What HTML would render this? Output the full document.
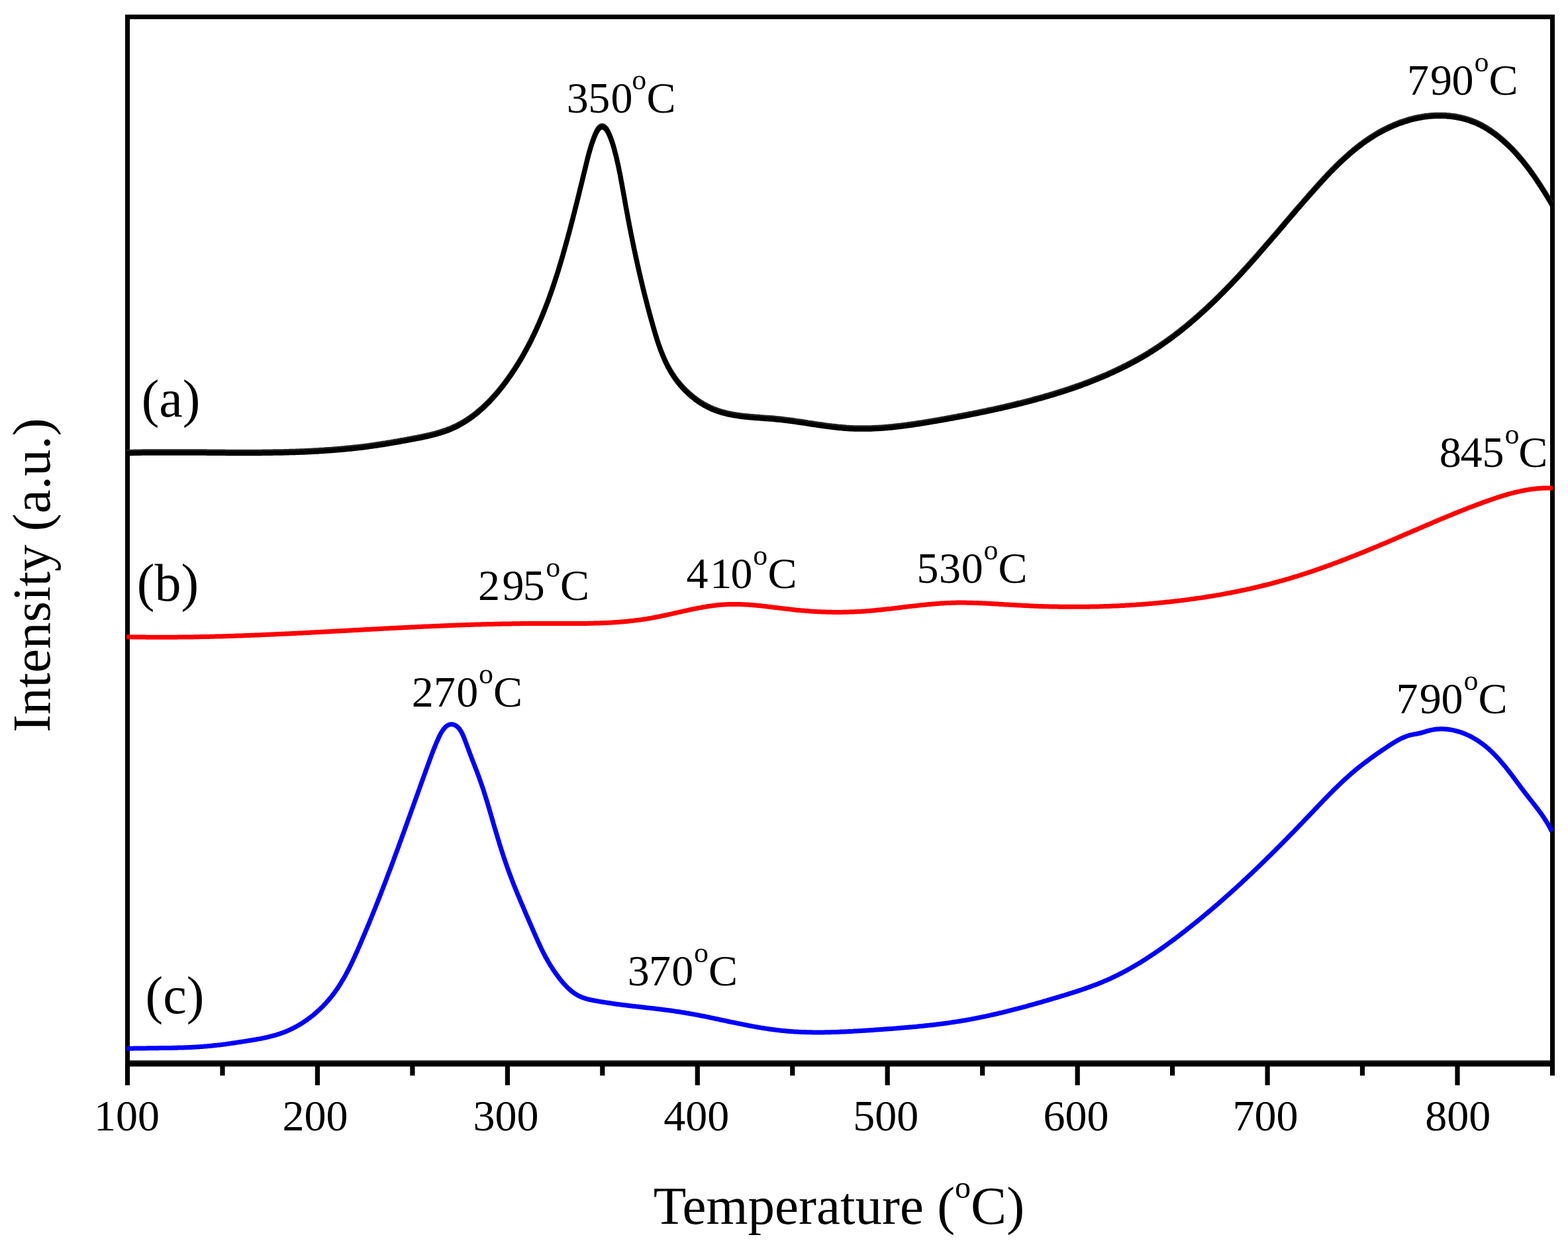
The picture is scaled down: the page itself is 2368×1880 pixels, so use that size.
<!DOCTYPE html>
<html><head><meta charset="utf-8"><style>
html,body{margin:0;padding:0;background:#fff;}
body{width:2368px;height:1880px;overflow:hidden;}
svg{display:block;}
</style></head><body>
<svg width="2368" height="1880" viewBox="0 0 2368 1880" font-family="'Liberation Serif','Times New Roman',serif" fill="#000"><rect width="2368" height="1880" fill="#fff"/><path d="M192.5 1606V25.5H2344.5V1606" fill="none" stroke="#000" stroke-width="7" stroke-linejoin="miter"/><rect x="189" y="1601.5" width="2159" height="9" fill="#000"/><rect x="196" y="1601.5" width="2145" height="2.3" fill="#1c1c1c"/><rect x="188.9" y="1606" width="7.2" height="32.7" fill="#000"/><rect x="332.4" y="1606" width="7.2" height="18.2" fill="#000"/><rect x="475.8" y="1606" width="7.2" height="32.7" fill="#000"/><rect x="619.3" y="1606" width="7.2" height="18.2" fill="#000"/><rect x="762.8" y="1606" width="7.2" height="32.7" fill="#000"/><rect x="906.2" y="1606" width="7.2" height="18.2" fill="#000"/><rect x="1049.7" y="1606" width="7.2" height="32.7" fill="#000"/><rect x="1193.2" y="1606" width="7.2" height="18.2" fill="#000"/><rect x="1336.6" y="1606" width="7.2" height="32.7" fill="#000"/><rect x="1480.1" y="1606" width="7.2" height="18.2" fill="#000"/><rect x="1623.6" y="1606" width="7.2" height="32.7" fill="#000"/><rect x="1767.0" y="1606" width="7.2" height="18.2" fill="#000"/><rect x="1910.5" y="1606" width="7.2" height="32.7" fill="#000"/><rect x="2053.9" y="1606" width="7.2" height="18.2" fill="#000"/><rect x="2197.4" y="1606" width="7.2" height="32.7" fill="#000"/><rect x="2340.9" y="1606" width="7.2" height="18.2" fill="#000"/><path d="M191.0 683.6L193.0 683.6L195.0 683.5L197.0 683.5L199.0 683.4L200.9 683.4L202.9 683.3L204.9 683.3L206.9 683.3L208.9 683.2L210.9 683.2L212.9 683.2L214.9 683.1L216.9 683.1L218.9 683.1L220.9 683.0L222.9 683.0L224.8 683.0L226.8 683.0L228.8 683.0L230.8 682.9L232.8 682.9L234.8 682.9L236.8 682.9L238.8 682.9L240.8 682.9L242.8 682.9L244.8 682.9L246.8 682.9L248.8 682.9L250.8 682.9L252.8 682.9L254.8 682.9L256.8 682.9L258.8 682.9L260.8 682.9L262.8 682.9L264.8 682.9L266.8 682.9L268.8 682.9L270.8 682.9L272.8 682.9L274.8 682.9L276.8 682.9L278.9 682.9L280.9 682.9L282.9 682.9L284.9 683.0L286.9 683.0L288.9 683.0L290.9 683.0L292.9 683.0L294.9 683.0L296.9 683.0L298.9 683.0L300.9 683.1L302.9 683.1L304.9 683.1L306.9 683.1L308.9 683.1L311.0 683.1L313.0 683.2L315.0 683.2L317.0 683.2L319.0 683.2L321.0 683.2L323.0 683.2L325.0 683.2L327.0 683.3L329.0 683.3L331.0 683.3L333.0 683.3L335.1 683.3L337.1 683.3L339.1 683.3L341.1 683.4L343.1 683.4L345.1 683.4L347.1 683.4L349.1 683.4L351.1 683.4L353.1 683.4L355.1 683.4L357.2 683.4L359.2 683.4L361.2 683.4L363.2 683.4L365.2 683.4L367.2 683.5L369.2 683.5L371.2 683.5L373.2 683.5L375.2 683.4L377.2 683.4L379.3 683.4L381.3 683.4L383.3 683.4L385.3 683.4L387.3 683.4L389.3 683.4L391.3 683.4L393.3 683.4L395.3 683.4L397.3 683.3L399.3 683.3L401.3 683.3L403.4 683.3L405.4 683.3L407.4 683.2L409.4 683.2L411.4 683.2L413.4 683.1L415.4 683.1L417.4 683.1L419.4 683.0L421.4 683.0L423.4 683.0L425.4 682.9L427.4 682.9L429.4 682.8L431.4 682.8L433.4 682.7L435.4 682.7L437.4 682.6L439.4 682.6L441.4 682.5L443.4 682.4L445.4 682.4L447.4 682.3L449.4 682.2L451.4 682.2L453.4 682.1L455.4 682.0L457.4 681.9L459.4 681.9L461.4 681.8L463.4 681.7L465.4 681.6L467.4 681.5L469.4 681.4L471.4 681.3L473.4 681.2L475.4 681.1L477.4 681.0L479.4 680.9L481.4 680.7L483.4 680.6L485.4 680.5L487.4 680.4L489.4 680.3L491.4 680.1L493.3 680.0L495.3 679.8L497.3 679.7L499.3 679.6L501.3 679.4L503.3 679.3L505.3 679.1L507.3 678.9L509.2 678.8L511.2 678.6L513.2 678.4L515.2 678.3L517.2 678.1L519.2 677.9L521.2 677.7L523.1 677.5L525.1 677.3L527.1 677.1L529.1 676.9L531.1 676.7L533.0 676.5L535.0 676.3L537.0 676.1L539.0 675.9L540.9 675.6L542.9 675.4L544.9 675.2L546.9 674.9L548.8 674.7L550.8 674.4L552.8 674.2L554.8 673.9L556.7 673.7L558.7 673.4L560.7 673.1L562.6 672.9L564.6 672.6L566.6 672.3L568.5 672.0L570.5 671.7L572.5 671.4L574.4 671.1L576.4 670.8L578.4 670.5L580.3 670.2L582.3 669.9L584.3 669.5L586.2 669.2L588.2 668.9L590.2 668.6L592.1 668.2L594.1 667.9L596.1 667.5L598.1 667.2L600.0 666.9L602.0 666.5L604.0 666.2L606.0 665.8L607.9 665.4L609.9 665.1L611.9 664.7L613.9 664.4L615.9 664.0L617.9 663.6L619.9 663.3L621.9 662.9L623.9 662.5L625.9 662.1L627.9 661.7L629.9 661.4L631.9 661.0L633.9 660.6L635.9 660.2L637.9 659.8L639.9 659.3L641.9 658.9L643.9 658.5L645.9 658.0L647.9 657.6L649.9 657.1L651.8 656.6L653.8 656.1L655.8 655.6L657.7 655.1L659.7 654.5L661.6 654.0L663.6 653.4L665.5 652.8L667.4 652.2L669.3 651.6L671.2 650.9L673.1 650.3L675.0 649.6L676.9 648.9L678.7 648.2L680.6 647.4L682.4 646.6L684.2 645.8L686.0 645.0L687.8 644.2L689.6 643.3L691.3 642.4L693.1 641.5L694.8 640.5L696.5 639.6L698.3 638.6L700.0 637.6L701.6 636.6L703.3 635.5L705.0 634.5L706.6 633.4L708.3 632.3L709.9 631.1L711.5 630.0L713.1 628.8L714.7 627.7L716.2 626.5L717.8 625.2L719.4 624.0L720.9 622.8L722.4 621.5L723.9 620.2L725.4 618.9L726.9 617.6L728.4 616.3L729.9 614.9L731.3 613.6L732.8 612.2L734.2 610.8L735.6 609.4L737.0 608.0L738.5 606.6L739.8 605.1L741.2 603.7L742.6 602.2L743.9 600.7L745.3 599.3L746.6 597.8L748.0 596.2L749.3 594.7L750.6 593.2L751.9 591.7L753.2 590.1L754.4 588.6L755.7 587.0L757.0 585.4L758.2 583.9L759.4 582.3L760.7 580.7L761.9 579.1L763.1 577.5L764.3 575.9L765.5 574.2L766.7 572.6L767.8 571.0L769.0 569.3L770.1 567.7L771.3 566.1L772.4 564.4L773.5 562.7L774.7 561.1L775.8 559.4L776.9 557.7L778.0 556.1L779.0 554.4L780.1 552.7L781.2 551.0L782.2 549.3L783.3 547.6L784.3 545.9L785.4 544.2L786.4 542.5L787.4 540.7L788.4 539.0L789.4 537.3L790.4 535.5L791.4 533.8L792.3 532.1L793.3 530.3L794.3 528.6L795.2 526.8L796.2 525.0L797.1 523.3L798.0 521.5L799.0 519.7L799.9 518.0L800.8 516.2L801.7 514.4L802.6 512.6L803.5 510.8L804.3 509.0L805.2 507.2L806.1 505.4L806.9 503.6L807.8 501.8L808.6 500.0L809.5 498.2L810.3 496.3L811.1 494.5L811.9 492.7L812.8 490.9L813.6 489.0L814.4 487.2L815.2 485.3L815.9 483.5L816.7 481.7L817.5 479.8L818.3 478.0L819.0 476.1L819.8 474.2L820.6 472.4L821.3 470.5L822.0 468.7L822.8 466.8L823.5 464.9L824.2 463.1L824.9 461.2L825.7 459.3L826.4 457.4L827.1 455.6L827.8 453.7L828.5 451.8L829.2 449.9L829.8 448.0L830.5 446.1L831.2 444.2L831.9 442.3L832.5 440.5L833.2 438.6L833.8 436.7L834.5 434.8L835.1 432.9L835.8 431.0L836.4 429.1L837.0 427.1L837.7 425.2L838.3 423.3L838.9 421.4L839.5 419.5L840.1 417.6L840.8 415.7L841.4 413.8L842.0 411.9L842.6 410.0L843.2 408.0L843.7 406.1L844.3 404.2L844.9 402.3L845.5 400.4L846.1 398.5L846.6 396.5L847.2 394.6L847.8 392.7L848.3 390.8L848.9 388.9L849.5 386.9L850.0 385.0L850.6 383.1L851.1 381.2L851.7 379.3L852.2 377.3L852.7 375.4L853.3 373.5L853.8 371.6L854.3 369.7L854.9 367.8L855.4 365.8L855.9 363.9L856.5 362.0L857.0 360.1L857.5 358.2L858.0 356.2L858.5 354.3L859.1 352.4L859.6 350.5L860.1 348.6L860.6 346.7L861.1 344.7L861.6 342.8L862.1 340.9L862.6 339.0L863.1 337.0L863.6 335.1L864.1 333.2L864.6 331.3L865.1 329.3L865.6 327.4L866.1 325.5L866.6 323.5L867.1 321.6L867.6 319.7L868.1 317.7L868.5 315.8L869.0 313.9L869.5 311.9L870.0 310.0L870.5 308.0L871.0 306.1L871.5 304.1L872.0 302.2L872.4 300.2L872.9 298.3L873.4 296.3L873.9 294.3L874.4 292.4L874.9 290.4L875.4 288.4L875.8 286.4L876.3 284.5L876.8 282.5L877.3 280.5L877.8 278.5L878.3 276.5L878.8 274.5L879.2 272.6L879.7 270.6L880.2 268.6L880.7 266.7L881.2 264.7L881.6 262.7L882.1 260.8L882.6 258.9L883.0 256.9L883.5 255.0L884.0 253.1L884.4 251.2L884.9 249.3L885.3 247.5L885.8 245.6L886.2 243.8L886.7 242.0L887.1 240.1L887.6 238.3L888.1 236.5L888.5 234.7L889.0 232.8L889.5 231.0L890.1 229.1L890.6 227.2L891.2 225.2L891.8 223.3L892.4 221.3L893.0 219.2L893.7 217.1L894.4 215.0L895.2 212.8L896.0 210.6L896.8 208.3L897.7 206.0L898.6 203.8L899.6 201.6L900.6 199.5L901.6 197.6L902.7 195.8L903.8 194.3L905.0 193.0L906.2 192.0L907.4 191.3L908.7 190.9L910.0 190.9L911.3 191.3L912.7 192.1L914.0 193.2L915.3 194.6L916.5 196.2L917.6 198.0L918.7 200.1L919.7 202.2L920.7 204.4L921.6 206.6L922.4 208.8L923.2 210.9L923.9 212.9L924.6 215.0L925.3 216.9L925.9 218.9L926.4 220.8L927.0 222.7L927.5 224.6L928.0 226.5L928.5 228.4L929.0 230.3L929.5 232.3L930.0 234.2L930.5 236.1L930.9 238.0L931.4 240.0L931.8 241.9L932.3 243.8L932.7 245.8L933.2 247.7L933.6 249.6L934.0 251.6L934.4 253.5L934.8 255.5L935.2 257.4L935.6 259.4L936.0 261.4L936.4 263.3L936.8 265.3L937.1 267.2L937.5 269.2L937.9 271.2L938.2 273.1L938.6 275.1L939.0 277.1L939.3 279.0L939.7 281.0L940.0 283.0L940.4 285.0L940.7 286.9L941.1 288.9L941.5 290.9L941.8 292.9L942.2 294.8L942.5 296.8L942.9 298.8L943.2 300.8L943.6 302.7L943.9 304.7L944.3 306.7L944.6 308.7L945.0 310.6L945.3 312.6L945.7 314.6L946.1 316.5L946.4 318.5L946.8 320.5L947.2 322.4L947.5 324.4L947.9 326.4L948.3 328.3L948.6 330.3L949.0 332.3L949.4 334.2L949.8 336.2L950.1 338.2L950.5 340.1L950.9 342.1L951.3 344.1L951.7 346.0L952.1 348.0L952.4 350.0L952.8 351.9L953.2 353.9L953.6 355.8L954.0 357.8L954.4 359.8L954.8 361.7L955.2 363.7L955.6 365.6L956.0 367.6L956.4 369.6L956.8 371.5L957.2 373.5L957.6 375.4L958.0 377.4L958.4 379.3L958.9 381.3L959.3 383.2L959.7 385.2L960.1 387.2L960.5 389.1L961.0 391.1L961.4 393.0L961.8 395.0L962.3 396.9L962.7 398.9L963.1 400.8L963.6 402.8L964.0 404.7L964.4 406.7L964.9 408.6L965.3 410.6L965.8 412.5L966.2 414.5L966.7 416.4L967.1 418.4L967.6 420.3L968.0 422.3L968.5 424.2L969.0 426.1L969.4 428.1L969.9 430.0L970.4 432.0L970.8 433.9L971.3 435.9L971.8 437.8L972.3 439.8L972.7 441.7L973.2 443.6L973.7 445.6L974.2 447.5L974.7 449.5L975.2 451.4L975.7 453.3L976.2 455.3L976.7 457.2L977.2 459.2L977.7 461.1L978.2 463.0L978.7 465.0L979.2 466.9L979.7 468.9L980.3 470.8L980.8 472.7L981.3 474.7L981.8 476.6L982.4 478.5L982.9 480.5L983.4 482.4L984.0 484.3L984.5 486.3L985.1 488.2L985.6 490.2L986.2 492.1L986.7 494.0L987.3 496.0L987.8 497.9L988.4 499.8L989.0 501.7L989.5 503.7L990.1 505.6L990.7 507.5L991.3 509.4L991.9 511.4L992.5 513.3L993.1 515.2L993.8 517.1L994.4 519.0L995.0 520.9L995.7 522.8L996.4 524.6L997.0 526.5L997.7 528.4L998.5 530.3L999.2 532.1L999.9 534.0L1000.7 535.8L1001.4 537.7L1002.2 539.5L1003.0 541.3L1003.8 543.1L1004.6 545.0L1005.5 546.8L1006.3 548.5L1007.2 550.3L1008.1 552.1L1009.0 553.9L1010.0 555.6L1010.9 557.3L1011.9 559.1L1012.9 560.8L1014.0 562.5L1015.0 564.2L1016.1 565.9L1017.2 567.5L1018.3 569.2L1019.4 570.8L1020.6 572.4L1021.8 574.1L1023.0 575.7L1024.3 577.2L1025.5 578.8L1026.8 580.4L1028.1 581.9L1029.5 583.4L1030.8 584.9L1032.2 586.4L1033.6 587.9L1035.1 589.3L1036.5 590.7L1038.0 592.1L1039.5 593.5L1041.0 594.9L1042.5 596.2L1044.0 597.5L1045.6 598.8L1047.2 600.1L1048.8 601.4L1050.4 602.6L1052.0 603.8L1053.6 604.9L1055.3 606.1L1057.0 607.2L1058.7 608.3L1060.4 609.3L1062.1 610.4L1063.8 611.4L1065.6 612.3L1067.3 613.3L1069.1 614.2L1070.9 615.0L1072.6 615.9L1074.4 616.7L1076.3 617.5L1078.1 618.2L1079.9 618.9L1081.7 619.6L1083.6 620.3L1085.4 620.9L1087.3 621.5L1089.2 622.1L1091.1 622.6L1093.0 623.1L1094.9 623.6L1096.8 624.1L1098.7 624.6L1100.6 625.0L1102.5 625.4L1104.5 625.8L1106.4 626.1L1108.4 626.5L1110.3 626.8L1112.3 627.1L1114.2 627.4L1116.2 627.7L1118.2 628.0L1120.2 628.2L1122.1 628.5L1124.1 628.7L1126.1 628.9L1128.1 629.1L1130.1 629.3L1132.1 629.5L1134.1 629.7L1136.1 629.8L1138.1 630.0L1140.2 630.2L1142.2 630.3L1144.2 630.5L1146.2 630.6L1148.2 630.8L1150.3 630.9L1152.3 631.1L1154.3 631.2L1156.3 631.4L1158.3 631.5L1160.4 631.7L1162.4 631.8L1164.4 632.0L1166.4 632.1L1168.5 632.3L1170.5 632.5L1172.5 632.7L1174.5 632.9L1176.5 633.1L1178.5 633.3L1180.6 633.5L1182.6 633.7L1184.6 634.0L1186.6 634.2L1188.6 634.5L1190.6 634.7L1192.6 635.0L1194.6 635.2L1196.6 635.5L1198.6 635.8L1200.6 636.1L1202.6 636.4L1204.6 636.7L1206.6 636.9L1208.6 637.2L1210.5 637.5L1212.5 637.8L1214.5 638.1L1216.5 638.4L1218.5 638.7L1220.5 639.1L1222.5 639.4L1224.4 639.7L1226.4 640.0L1228.4 640.3L1230.4 640.6L1232.4 640.9L1234.4 641.2L1236.3 641.4L1238.3 641.7L1240.3 642.0L1242.3 642.3L1244.3 642.6L1246.2 642.9L1248.2 643.1L1250.2 643.4L1252.2 643.6L1254.1 643.9L1256.1 644.1L1258.1 644.4L1260.1 644.6L1262.1 644.8L1264.0 645.0L1266.0 645.3L1268.0 645.4L1270.0 645.6L1272.0 645.8L1273.9 646.0L1275.9 646.1L1277.9 646.3L1279.9 646.4L1281.9 646.5L1283.8 646.7L1285.8 646.7L1287.8 646.8L1289.8 646.9L1291.8 647.0L1293.8 647.0L1295.8 647.1L1297.7 647.1L1299.7 647.1L1301.7 647.1L1303.7 647.1L1305.7 647.1L1307.7 647.1L1309.7 647.1L1311.7 647.0L1313.7 647.0L1315.6 646.9L1317.6 646.8L1319.6 646.7L1321.6 646.6L1323.6 646.5L1325.6 646.4L1327.6 646.3L1329.6 646.2L1331.6 646.1L1333.6 645.9L1335.6 645.8L1337.6 645.6L1339.5 645.4L1341.5 645.3L1343.5 645.1L1345.5 644.9L1347.5 644.7L1349.5 644.5L1351.5 644.3L1353.5 644.1L1355.5 643.8L1357.5 643.6L1359.5 643.4L1361.5 643.1L1363.4 642.9L1365.4 642.6L1367.4 642.4L1369.4 642.1L1371.4 641.8L1373.4 641.6L1375.4 641.3L1377.4 641.0L1379.4 640.7L1381.4 640.4L1383.3 640.1L1385.3 639.8L1387.3 639.5L1389.3 639.2L1391.3 638.9L1393.3 638.6L1395.3 638.3L1397.2 637.9L1399.2 637.6L1401.2 637.3L1403.2 636.9L1405.2 636.6L1407.2 636.3L1409.1 635.9L1411.1 635.6L1413.1 635.3L1415.1 634.9L1417.1 634.6L1419.0 634.2L1421.0 633.9L1423.0 633.5L1425.0 633.2L1426.9 632.8L1428.9 632.5L1430.9 632.1L1432.8 631.7L1434.8 631.4L1436.8 631.0L1438.7 630.7L1440.7 630.3L1442.7 629.9L1444.6 629.6L1446.6 629.2L1448.6 628.8L1450.5 628.5L1452.5 628.1L1454.5 627.7L1456.4 627.3L1458.4 627.0L1460.3 626.6L1462.3 626.2L1464.3 625.8L1466.2 625.4L1468.2 625.1L1470.1 624.7L1472.1 624.3L1474.1 623.9L1476.0 623.5L1478.0 623.1L1479.9 622.7L1481.9 622.3L1483.8 621.9L1485.8 621.5L1487.7 621.1L1489.7 620.7L1491.6 620.2L1493.6 619.8L1495.5 619.4L1497.5 619.0L1499.4 618.6L1501.4 618.1L1503.3 617.7L1505.3 617.3L1507.2 616.8L1509.2 616.4L1511.1 616.0L1513.1 615.5L1515.0 615.1L1517.0 614.6L1518.9 614.2L1520.8 613.7L1522.8 613.3L1524.7 612.8L1526.7 612.4L1528.6 611.9L1530.6 611.4L1532.5 611.0L1534.5 610.5L1536.4 610.0L1538.3 609.5L1540.3 609.1L1542.2 608.6L1544.2 608.1L1546.1 607.6L1548.0 607.1L1550.0 606.6L1551.9 606.1L1553.9 605.6L1555.8 605.1L1557.7 604.6L1559.7 604.0L1561.6 603.5L1563.5 603.0L1565.5 602.5L1567.4 601.9L1569.4 601.4L1571.3 600.9L1573.2 600.3L1575.1 599.8L1577.1 599.2L1579.0 598.7L1580.9 598.1L1582.9 597.6L1584.8 597.0L1586.7 596.4L1588.6 595.9L1590.6 595.3L1592.5 594.7L1594.4 594.1L1596.3 593.5L1598.2 592.9L1600.1 592.3L1602.1 591.7L1604.0 591.1L1605.9 590.5L1607.8 589.9L1609.7 589.3L1611.6 588.6L1613.5 588.0L1615.4 587.4L1617.3 586.7L1619.2 586.1L1621.1 585.4L1623.0 584.8L1624.9 584.1L1626.8 583.4L1628.7 582.8L1630.6 582.1L1632.4 581.4L1634.3 580.7L1636.2 580.0L1638.1 579.3L1640.0 578.6L1641.8 577.9L1643.7 577.2L1645.6 576.5L1647.4 575.8L1649.3 575.0L1651.2 574.3L1653.0 573.6L1654.9 572.8L1656.7 572.1L1658.6 571.3L1660.4 570.6L1662.3 569.8L1664.1 569.0L1666.0 568.2L1667.8 567.4L1669.6 566.7L1671.5 565.9L1673.3 565.1L1675.1 564.2L1676.9 563.4L1678.7 562.6L1680.6 561.8L1682.4 560.9L1684.2 560.1L1686.0 559.3L1687.8 558.4L1689.6 557.5L1691.4 556.7L1693.2 555.8L1695.0 554.9L1696.7 554.0L1698.5 553.2L1700.3 552.3L1702.1 551.4L1703.9 550.4L1705.6 549.5L1707.4 548.6L1709.1 547.7L1710.9 546.7L1712.7 545.8L1714.4 544.8L1716.1 543.9L1717.9 542.9L1719.6 541.9L1721.4 541.0L1723.1 540.0L1724.8 539.0L1726.5 538.0L1728.2 537.0L1730.0 535.9L1731.7 534.9L1733.4 533.9L1735.1 532.9L1736.8 531.8L1738.4 530.8L1740.1 529.7L1741.8 528.6L1743.5 527.5L1745.2 526.5L1746.8 525.4L1748.5 524.3L1750.1 523.2L1751.8 522.1L1753.4 520.9L1755.1 519.8L1756.7 518.7L1758.4 517.5L1760.0 516.4L1761.6 515.2L1763.2 514.1L1764.9 512.9L1766.5 511.7L1768.1 510.5L1769.7 509.4L1771.3 508.2L1772.9 507.0L1774.5 505.8L1776.1 504.5L1777.7 503.3L1779.3 502.1L1780.8 500.9L1782.4 499.6L1784.0 498.4L1785.5 497.1L1787.1 495.9L1788.7 494.6L1790.2 493.4L1791.8 492.1L1793.3 490.8L1794.8 489.5L1796.4 488.3L1797.9 487.0L1799.4 485.7L1801.0 484.4L1802.5 483.1L1804.0 481.7L1805.5 480.4L1807.0 479.1L1808.5 477.8L1810.0 476.5L1811.5 475.1L1813.0 473.8L1814.5 472.4L1816.0 471.1L1817.5 469.7L1819.0 468.4L1820.5 467.0L1821.9 465.7L1823.4 464.3L1824.9 462.9L1826.3 461.5L1827.8 460.2L1829.3 458.8L1830.7 457.4L1832.2 456.0L1833.6 454.6L1835.1 453.2L1836.5 451.8L1837.9 450.4L1839.4 449.0L1840.8 447.6L1842.2 446.2L1843.6 444.7L1845.1 443.3L1846.5 441.9L1847.9 440.5L1849.3 439.0L1850.7 437.6L1852.1 436.2L1853.5 434.7L1854.9 433.3L1856.3 431.9L1857.7 430.4L1859.1 429.0L1860.5 427.5L1861.8 426.1L1863.2 424.6L1864.6 423.2L1866.0 421.7L1867.3 420.2L1868.7 418.8L1870.1 417.3L1871.4 415.9L1872.8 414.4L1874.2 412.9L1875.5 411.5L1876.9 410.0L1878.2 408.5L1879.6 407.0L1880.9 405.6L1882.2 404.1L1883.6 402.6L1884.9 401.1L1886.2 399.7L1887.6 398.2L1888.9 396.7L1890.2 395.2L1891.6 393.7L1892.9 392.2L1894.2 390.7L1895.5 389.3L1896.8 387.8L1898.2 386.3L1899.5 384.8L1900.8 383.3L1902.1 381.8L1903.4 380.3L1904.7 378.8L1906.0 377.3L1907.3 375.8L1908.6 374.3L1909.9 372.8L1911.2 371.3L1912.5 369.8L1913.8 368.3L1915.1 366.8L1916.4 365.3L1917.7 363.8L1919.0 362.3L1920.3 360.8L1921.6 359.2L1922.9 357.7L1924.2 356.2L1925.5 354.7L1926.8 353.2L1928.1 351.7L1929.4 350.2L1930.7 348.7L1932.0 347.2L1933.3 345.6L1934.6 344.1L1935.9 342.6L1937.2 341.1L1938.5 339.6L1939.8 338.1L1941.0 336.6L1942.3 335.0L1943.6 333.5L1944.9 332.0L1946.2 330.5L1947.5 329.0L1948.8 327.5L1950.1 325.9L1951.4 324.4L1952.7 322.9L1954.0 321.4L1955.3 319.9L1956.6 318.4L1957.9 316.8L1959.2 315.3L1960.5 313.8L1961.8 312.3L1963.2 310.8L1964.5 309.3L1965.8 307.7L1967.1 306.2L1968.4 304.7L1969.7 303.2L1971.0 301.7L1972.4 300.2L1973.7 298.7L1975.0 297.1L1976.3 295.6L1977.7 294.1L1979.0 292.6L1980.3 291.1L1981.7 289.6L1983.0 288.1L1984.3 286.6L1985.7 285.1L1987.0 283.6L1988.4 282.1L1989.7 280.6L1991.1 279.1L1992.4 277.6L1993.8 276.1L1995.1 274.6L1996.5 273.1L1997.9 271.6L1999.2 270.1L2000.6 268.6L2002.0 267.2L2003.4 265.7L2004.8 264.2L2006.1 262.8L2007.5 261.3L2008.9 259.9L2010.3 258.4L2011.8 257.0L2013.2 255.5L2014.6 254.1L2016.0 252.7L2017.4 251.3L2018.9 249.9L2020.3 248.4L2021.7 247.0L2023.2 245.7L2024.6 244.3L2026.1 242.9L2027.6 241.5L2029.0 240.2L2030.5 238.8L2032.0 237.5L2033.5 236.1L2035.0 234.8L2036.5 233.5L2038.0 232.2L2039.5 230.9L2041.0 229.6L2042.6 228.3L2044.1 227.0L2045.6 225.7L2047.2 224.5L2048.7 223.2L2050.3 222.0L2051.9 220.8L2053.4 219.6L2055.0 218.4L2056.6 217.2L2058.2 216.0L2059.8 214.8L2061.4 213.7L2063.1 212.5L2064.7 211.4L2066.3 210.3L2068.0 209.2L2069.6 208.1L2071.3 207.0L2073.0 205.9L2074.7 204.9L2076.3 203.9L2078.0 202.8L2079.8 201.8L2081.5 200.8L2083.2 199.8L2084.9 198.9L2086.7 197.9L2088.4 197.0L2090.2 196.1L2092.0 195.2L2093.8 194.3L2095.6 193.4L2097.4 192.5L2099.2 191.7L2101.0 190.9L2102.8 190.1L2104.6 189.3L2106.5 188.5L2108.3 187.8L2110.2 187.0L2112.1 186.3L2113.9 185.6L2115.8 184.9L2117.7 184.3L2119.6 183.6L2121.5 183.0L2123.4 182.4L2125.3 181.8L2127.2 181.2L2129.1 180.7L2131.0 180.2L2133.0 179.7L2134.9 179.2L2136.8 178.7L2138.8 178.3L2140.7 177.9L2142.7 177.5L2144.6 177.1L2146.6 176.8L2148.6 176.4L2150.5 176.1L2152.5 175.8L2154.5 175.6L2156.5 175.4L2158.4 175.1L2160.4 175.0L2162.4 174.8L2164.4 174.7L2166.4 174.6L2168.4 174.5L2170.4 174.4L2172.4 174.4L2174.4 174.4L2176.4 174.4L2178.4 174.4L2180.4 174.5L2182.4 174.6L2184.4 174.7L2186.4 174.9L2188.4 175.0L2190.4 175.3L2192.4 175.5L2194.4 175.7L2196.4 176.0L2198.4 176.3L2200.4 176.7L2202.3 177.1L2204.3 177.5L2206.3 177.9L2208.2 178.4L2210.2 178.8L2212.1 179.4L2214.0 179.9L2216.0 180.5L2217.9 181.1L2219.7 181.7L2221.6 182.4L2223.5 183.1L2225.3 183.8L2227.2 184.6L2229.0 185.3L2230.8 186.1L2232.6 187.0L2234.4 187.8L2236.2 188.7L2237.9 189.6L2239.7 190.6L2241.4 191.6L2243.1 192.5L2244.8 193.6L2246.5 194.6L2248.2 195.7L2249.8 196.7L2251.5 197.8L2253.1 199.0L2254.8 200.1L2256.4 201.3L2258.0 202.4L2259.6 203.6L2261.1 204.8L2262.7 206.1L2264.2 207.3L2265.8 208.6L2267.3 209.9L2268.8 211.1L2270.3 212.5L2271.8 213.8L2273.3 215.1L2274.7 216.5L2276.2 217.8L2277.6 219.2L2279.1 220.6L2280.5 222.0L2281.9 223.4L2283.3 224.8L2284.7 226.2L2286.1 227.7L2287.4 229.1L2288.8 230.6L2290.1 232.1L2291.5 233.6L2292.8 235.1L2294.1 236.6L2295.4 238.1L2296.7 239.6L2298.0 241.2L2299.3 242.7L2300.5 244.3L2301.8 245.8L2303.0 247.4L2304.3 249.0L2305.5 250.6L2306.7 252.2L2308.0 253.8L2309.2 255.4L2310.4 257.0L2311.5 258.6L2312.7 260.3L2313.9 261.9L2315.1 263.5L2316.2 265.2L2317.4 266.8L2318.5 268.5L2319.7 270.2L2320.8 271.8L2321.9 273.5L2323.0 275.2L2324.1 276.8L2325.2 278.5L2326.3 280.2L2327.4 281.9L2328.5 283.6L2329.6 285.3L2330.6 286.9L2331.7 288.6L2332.8 290.3L2333.8 292.0L2334.8 293.7L2335.9 295.4L2336.9 297.1L2337.9 298.8L2339.0 300.5L2340.0 302.2L2341.0 303.9L2342.0 305.6L2343.0 307.3L2344.0 309.0" fill="none" stroke="#222" stroke-width="7" stroke-linejoin="round" transform="translate(0 -1.25)"/><path d="M191.0 683.6L193.0 683.6L195.0 683.5L197.0 683.5L199.0 683.4L200.9 683.4L202.9 683.3L204.9 683.3L206.9 683.3L208.9 683.2L210.9 683.2L212.9 683.2L214.9 683.1L216.9 683.1L218.9 683.1L220.9 683.0L222.9 683.0L224.8 683.0L226.8 683.0L228.8 683.0L230.8 682.9L232.8 682.9L234.8 682.9L236.8 682.9L238.8 682.9L240.8 682.9L242.8 682.9L244.8 682.9L246.8 682.9L248.8 682.9L250.8 682.9L252.8 682.9L254.8 682.9L256.8 682.9L258.8 682.9L260.8 682.9L262.8 682.9L264.8 682.9L266.8 682.9L268.8 682.9L270.8 682.9L272.8 682.9L274.8 682.9L276.8 682.9L278.9 682.9L280.9 682.9L282.9 682.9L284.9 683.0L286.9 683.0L288.9 683.0L290.9 683.0L292.9 683.0L294.9 683.0L296.9 683.0L298.9 683.0L300.9 683.1L302.9 683.1L304.9 683.1L306.9 683.1L308.9 683.1L311.0 683.1L313.0 683.2L315.0 683.2L317.0 683.2L319.0 683.2L321.0 683.2L323.0 683.2L325.0 683.2L327.0 683.3L329.0 683.3L331.0 683.3L333.0 683.3L335.1 683.3L337.1 683.3L339.1 683.3L341.1 683.4L343.1 683.4L345.1 683.4L347.1 683.4L349.1 683.4L351.1 683.4L353.1 683.4L355.1 683.4L357.2 683.4L359.2 683.4L361.2 683.4L363.2 683.4L365.2 683.4L367.2 683.5L369.2 683.5L371.2 683.5L373.2 683.5L375.2 683.4L377.2 683.4L379.3 683.4L381.3 683.4L383.3 683.4L385.3 683.4L387.3 683.4L389.3 683.4L391.3 683.4L393.3 683.4L395.3 683.4L397.3 683.3L399.3 683.3L401.3 683.3L403.4 683.3L405.4 683.3L407.4 683.2L409.4 683.2L411.4 683.2L413.4 683.1L415.4 683.1L417.4 683.1L419.4 683.0L421.4 683.0L423.4 683.0L425.4 682.9L427.4 682.9L429.4 682.8L431.4 682.8L433.4 682.7L435.4 682.7L437.4 682.6L439.4 682.6L441.4 682.5L443.4 682.4L445.4 682.4L447.4 682.3L449.4 682.2L451.4 682.2L453.4 682.1L455.4 682.0L457.4 681.9L459.4 681.9L461.4 681.8L463.4 681.7L465.4 681.6L467.4 681.5L469.4 681.4L471.4 681.3L473.4 681.2L475.4 681.1L477.4 681.0L479.4 680.9L481.4 680.7L483.4 680.6L485.4 680.5L487.4 680.4L489.4 680.3L491.4 680.1L493.3 680.0L495.3 679.8L497.3 679.7L499.3 679.6L501.3 679.4L503.3 679.3L505.3 679.1L507.3 678.9L509.2 678.8L511.2 678.6L513.2 678.4L515.2 678.3L517.2 678.1L519.2 677.9L521.2 677.7L523.1 677.5L525.1 677.3L527.1 677.1L529.1 676.9L531.1 676.7L533.0 676.5L535.0 676.3L537.0 676.1L539.0 675.9L540.9 675.6L542.9 675.4L544.9 675.2L546.9 674.9L548.8 674.7L550.8 674.4L552.8 674.2L554.8 673.9L556.7 673.7L558.7 673.4L560.7 673.1L562.6 672.9L564.6 672.6L566.6 672.3L568.5 672.0L570.5 671.7L572.5 671.4L574.4 671.1L576.4 670.8L578.4 670.5L580.3 670.2L582.3 669.9L584.3 669.5L586.2 669.2L588.2 668.9L590.2 668.6L592.1 668.2L594.1 667.9L596.1 667.5L598.1 667.2L600.0 666.9L602.0 666.5L604.0 666.2L606.0 665.8L607.9 665.4L609.9 665.1L611.9 664.7L613.9 664.4L615.9 664.0L617.9 663.6L619.9 663.3L621.9 662.9L623.9 662.5L625.9 662.1L627.9 661.7L629.9 661.4L631.9 661.0L633.9 660.6L635.9 660.2L637.9 659.8L639.9 659.3L641.9 658.9L643.9 658.5L645.9 658.0L647.9 657.6L649.9 657.1L651.8 656.6L653.8 656.1L655.8 655.6L657.7 655.1L659.7 654.5L661.6 654.0L663.6 653.4L665.5 652.8L667.4 652.2L669.3 651.6L671.2 650.9L673.1 650.3L675.0 649.6L676.9 648.9L678.7 648.2L680.6 647.4L682.4 646.6L684.2 645.8L686.0 645.0L687.8 644.2L689.6 643.3L691.3 642.4L693.1 641.5L694.8 640.5L696.5 639.6L698.3 638.6L700.0 637.6L701.6 636.6L703.3 635.5L705.0 634.5L706.6 633.4L708.3 632.3L709.9 631.1L711.5 630.0L713.1 628.8L714.7 627.7L716.2 626.5L717.8 625.2L719.4 624.0L720.9 622.8L722.4 621.5L723.9 620.2L725.4 618.9L726.9 617.6L728.4 616.3L729.9 614.9L731.3 613.6L732.8 612.2L734.2 610.8L735.6 609.4L737.0 608.0L738.5 606.6L739.8 605.1L741.2 603.7L742.6 602.2L743.9 600.7L745.3 599.3L746.6 597.8L748.0 596.2L749.3 594.7L750.6 593.2L751.9 591.7L753.2 590.1L754.4 588.6L755.7 587.0L757.0 585.4L758.2 583.9L759.4 582.3L760.7 580.7L761.9 579.1L763.1 577.5L764.3 575.9L765.5 574.2L766.7 572.6L767.8 571.0L769.0 569.3L770.1 567.7L771.3 566.1L772.4 564.4L773.5 562.7L774.7 561.1L775.8 559.4L776.9 557.7L778.0 556.1L779.0 554.4L780.1 552.7L781.2 551.0L782.2 549.3L783.3 547.6L784.3 545.9L785.4 544.2L786.4 542.5L787.4 540.7L788.4 539.0L789.4 537.3L790.4 535.5L791.4 533.8L792.3 532.1L793.3 530.3L794.3 528.6L795.2 526.8L796.2 525.0L797.1 523.3L798.0 521.5L799.0 519.7L799.9 518.0L800.8 516.2L801.7 514.4L802.6 512.6L803.5 510.8L804.3 509.0L805.2 507.2L806.1 505.4L806.9 503.6L807.8 501.8L808.6 500.0L809.5 498.2L810.3 496.3L811.1 494.5L811.9 492.7L812.8 490.9L813.6 489.0L814.4 487.2L815.2 485.3L815.9 483.5L816.7 481.7L817.5 479.8L818.3 478.0L819.0 476.1L819.8 474.2L820.6 472.4L821.3 470.5L822.0 468.7L822.8 466.8L823.5 464.9L824.2 463.1L824.9 461.2L825.7 459.3L826.4 457.4L827.1 455.6L827.8 453.7L828.5 451.8L829.2 449.9L829.8 448.0L830.5 446.1L831.2 444.2L831.9 442.3L832.5 440.5L833.2 438.6L833.8 436.7L834.5 434.8L835.1 432.9L835.8 431.0L836.4 429.1L837.0 427.1L837.7 425.2L838.3 423.3L838.9 421.4L839.5 419.5L840.1 417.6L840.8 415.7L841.4 413.8L842.0 411.9L842.6 410.0L843.2 408.0L843.7 406.1L844.3 404.2L844.9 402.3L845.5 400.4L846.1 398.5L846.6 396.5L847.2 394.6L847.8 392.7L848.3 390.8L848.9 388.9L849.5 386.9L850.0 385.0L850.6 383.1L851.1 381.2L851.7 379.3L852.2 377.3L852.7 375.4L853.3 373.5L853.8 371.6L854.3 369.7L854.9 367.8L855.4 365.8L855.9 363.9L856.5 362.0L857.0 360.1L857.5 358.2L858.0 356.2L858.5 354.3L859.1 352.4L859.6 350.5L860.1 348.6L860.6 346.7L861.1 344.7L861.6 342.8L862.1 340.9L862.6 339.0L863.1 337.0L863.6 335.1L864.1 333.2L864.6 331.3L865.1 329.3L865.6 327.4L866.1 325.5L866.6 323.5L867.1 321.6L867.6 319.7L868.1 317.7L868.5 315.8L869.0 313.9L869.5 311.9L870.0 310.0L870.5 308.0L871.0 306.1L871.5 304.1L872.0 302.2L872.4 300.2L872.9 298.3L873.4 296.3L873.9 294.3L874.4 292.4L874.9 290.4L875.4 288.4L875.8 286.4L876.3 284.5L876.8 282.5L877.3 280.5L877.8 278.5L878.3 276.5L878.8 274.5L879.2 272.6L879.7 270.6L880.2 268.6L880.7 266.7L881.2 264.7L881.6 262.7L882.1 260.8L882.6 258.9L883.0 256.9L883.5 255.0L884.0 253.1L884.4 251.2L884.9 249.3L885.3 247.5L885.8 245.6L886.2 243.8L886.7 242.0L887.1 240.1L887.6 238.3L888.1 236.5L888.5 234.7L889.0 232.8L889.5 231.0L890.1 229.1L890.6 227.2L891.2 225.2L891.8 223.3L892.4 221.3L893.0 219.2L893.7 217.1L894.4 215.0L895.2 212.8L896.0 210.6L896.8 208.3L897.7 206.0L898.6 203.8L899.6 201.6L900.6 199.5L901.6 197.6L902.7 195.8L903.8 194.3L905.0 193.0L906.2 192.0L907.4 191.3L908.7 190.9L910.0 190.9L911.3 191.3L912.7 192.1L914.0 193.2L915.3 194.6L916.5 196.2L917.6 198.0L918.7 200.1L919.7 202.2L920.7 204.4L921.6 206.6L922.4 208.8L923.2 210.9L923.9 212.9L924.6 215.0L925.3 216.9L925.9 218.9L926.4 220.8L927.0 222.7L927.5 224.6L928.0 226.5L928.5 228.4L929.0 230.3L929.5 232.3L930.0 234.2L930.5 236.1L930.9 238.0L931.4 240.0L931.8 241.9L932.3 243.8L932.7 245.8L933.2 247.7L933.6 249.6L934.0 251.6L934.4 253.5L934.8 255.5L935.2 257.4L935.6 259.4L936.0 261.4L936.4 263.3L936.8 265.3L937.1 267.2L937.5 269.2L937.9 271.2L938.2 273.1L938.6 275.1L939.0 277.1L939.3 279.0L939.7 281.0L940.0 283.0L940.4 285.0L940.7 286.9L941.1 288.9L941.5 290.9L941.8 292.9L942.2 294.8L942.5 296.8L942.9 298.8L943.2 300.8L943.6 302.7L943.9 304.7L944.3 306.7L944.6 308.7L945.0 310.6L945.3 312.6L945.7 314.6L946.1 316.5L946.4 318.5L946.8 320.5L947.2 322.4L947.5 324.4L947.9 326.4L948.3 328.3L948.6 330.3L949.0 332.3L949.4 334.2L949.8 336.2L950.1 338.2L950.5 340.1L950.9 342.1L951.3 344.1L951.7 346.0L952.1 348.0L952.4 350.0L952.8 351.9L953.2 353.9L953.6 355.8L954.0 357.8L954.4 359.8L954.8 361.7L955.2 363.7L955.6 365.6L956.0 367.6L956.4 369.6L956.8 371.5L957.2 373.5L957.6 375.4L958.0 377.4L958.4 379.3L958.9 381.3L959.3 383.2L959.7 385.2L960.1 387.2L960.5 389.1L961.0 391.1L961.4 393.0L961.8 395.0L962.3 396.9L962.7 398.9L963.1 400.8L963.6 402.8L964.0 404.7L964.4 406.7L964.9 408.6L965.3 410.6L965.8 412.5L966.2 414.5L966.7 416.4L967.1 418.4L967.6 420.3L968.0 422.3L968.5 424.2L969.0 426.1L969.4 428.1L969.9 430.0L970.4 432.0L970.8 433.9L971.3 435.9L971.8 437.8L972.3 439.8L972.7 441.7L973.2 443.6L973.7 445.6L974.2 447.5L974.7 449.5L975.2 451.4L975.7 453.3L976.2 455.3L976.7 457.2L977.2 459.2L977.7 461.1L978.2 463.0L978.7 465.0L979.2 466.9L979.7 468.9L980.3 470.8L980.8 472.7L981.3 474.7L981.8 476.6L982.4 478.5L982.9 480.5L983.4 482.4L984.0 484.3L984.5 486.3L985.1 488.2L985.6 490.2L986.2 492.1L986.7 494.0L987.3 496.0L987.8 497.9L988.4 499.8L989.0 501.7L989.5 503.7L990.1 505.6L990.7 507.5L991.3 509.4L991.9 511.4L992.5 513.3L993.1 515.2L993.8 517.1L994.4 519.0L995.0 520.9L995.7 522.8L996.4 524.6L997.0 526.5L997.7 528.4L998.5 530.3L999.2 532.1L999.9 534.0L1000.7 535.8L1001.4 537.7L1002.2 539.5L1003.0 541.3L1003.8 543.1L1004.6 545.0L1005.5 546.8L1006.3 548.5L1007.2 550.3L1008.1 552.1L1009.0 553.9L1010.0 555.6L1010.9 557.3L1011.9 559.1L1012.9 560.8L1014.0 562.5L1015.0 564.2L1016.1 565.9L1017.2 567.5L1018.3 569.2L1019.4 570.8L1020.6 572.4L1021.8 574.1L1023.0 575.7L1024.3 577.2L1025.5 578.8L1026.8 580.4L1028.1 581.9L1029.5 583.4L1030.8 584.9L1032.2 586.4L1033.6 587.9L1035.1 589.3L1036.5 590.7L1038.0 592.1L1039.5 593.5L1041.0 594.9L1042.5 596.2L1044.0 597.5L1045.6 598.8L1047.2 600.1L1048.8 601.4L1050.4 602.6L1052.0 603.8L1053.6 604.9L1055.3 606.1L1057.0 607.2L1058.7 608.3L1060.4 609.3L1062.1 610.4L1063.8 611.4L1065.6 612.3L1067.3 613.3L1069.1 614.2L1070.9 615.0L1072.6 615.9L1074.4 616.7L1076.3 617.5L1078.1 618.2L1079.9 618.9L1081.7 619.6L1083.6 620.3L1085.4 620.9L1087.3 621.5L1089.2 622.1L1091.1 622.6L1093.0 623.1L1094.9 623.6L1096.8 624.1L1098.7 624.6L1100.6 625.0L1102.5 625.4L1104.5 625.8L1106.4 626.1L1108.4 626.5L1110.3 626.8L1112.3 627.1L1114.2 627.4L1116.2 627.7L1118.2 628.0L1120.2 628.2L1122.1 628.5L1124.1 628.7L1126.1 628.9L1128.1 629.1L1130.1 629.3L1132.1 629.5L1134.1 629.7L1136.1 629.8L1138.1 630.0L1140.2 630.2L1142.2 630.3L1144.2 630.5L1146.2 630.6L1148.2 630.8L1150.3 630.9L1152.3 631.1L1154.3 631.2L1156.3 631.4L1158.3 631.5L1160.4 631.7L1162.4 631.8L1164.4 632.0L1166.4 632.1L1168.5 632.3L1170.5 632.5L1172.5 632.7L1174.5 632.9L1176.5 633.1L1178.5 633.3L1180.6 633.5L1182.6 633.7L1184.6 634.0L1186.6 634.2L1188.6 634.5L1190.6 634.7L1192.6 635.0L1194.6 635.2L1196.6 635.5L1198.6 635.8L1200.6 636.1L1202.6 636.4L1204.6 636.7L1206.6 636.9L1208.6 637.2L1210.5 637.5L1212.5 637.8L1214.5 638.1L1216.5 638.4L1218.5 638.7L1220.5 639.1L1222.5 639.4L1224.4 639.7L1226.4 640.0L1228.4 640.3L1230.4 640.6L1232.4 640.9L1234.4 641.2L1236.3 641.4L1238.3 641.7L1240.3 642.0L1242.3 642.3L1244.3 642.6L1246.2 642.9L1248.2 643.1L1250.2 643.4L1252.2 643.6L1254.1 643.9L1256.1 644.1L1258.1 644.4L1260.1 644.6L1262.1 644.8L1264.0 645.0L1266.0 645.3L1268.0 645.4L1270.0 645.6L1272.0 645.8L1273.9 646.0L1275.9 646.1L1277.9 646.3L1279.9 646.4L1281.9 646.5L1283.8 646.7L1285.8 646.7L1287.8 646.8L1289.8 646.9L1291.8 647.0L1293.8 647.0L1295.8 647.1L1297.7 647.1L1299.7 647.1L1301.7 647.1L1303.7 647.1L1305.7 647.1L1307.7 647.1L1309.7 647.1L1311.7 647.0L1313.7 647.0L1315.6 646.9L1317.6 646.8L1319.6 646.7L1321.6 646.6L1323.6 646.5L1325.6 646.4L1327.6 646.3L1329.6 646.2L1331.6 646.1L1333.6 645.9L1335.6 645.8L1337.6 645.6L1339.5 645.4L1341.5 645.3L1343.5 645.1L1345.5 644.9L1347.5 644.7L1349.5 644.5L1351.5 644.3L1353.5 644.1L1355.5 643.8L1357.5 643.6L1359.5 643.4L1361.5 643.1L1363.4 642.9L1365.4 642.6L1367.4 642.4L1369.4 642.1L1371.4 641.8L1373.4 641.6L1375.4 641.3L1377.4 641.0L1379.4 640.7L1381.4 640.4L1383.3 640.1L1385.3 639.8L1387.3 639.5L1389.3 639.2L1391.3 638.9L1393.3 638.6L1395.3 638.3L1397.2 637.9L1399.2 637.6L1401.2 637.3L1403.2 636.9L1405.2 636.6L1407.2 636.3L1409.1 635.9L1411.1 635.6L1413.1 635.3L1415.1 634.9L1417.1 634.6L1419.0 634.2L1421.0 633.9L1423.0 633.5L1425.0 633.2L1426.9 632.8L1428.9 632.5L1430.9 632.1L1432.8 631.7L1434.8 631.4L1436.8 631.0L1438.7 630.7L1440.7 630.3L1442.7 629.9L1444.6 629.6L1446.6 629.2L1448.6 628.8L1450.5 628.5L1452.5 628.1L1454.5 627.7L1456.4 627.3L1458.4 627.0L1460.3 626.6L1462.3 626.2L1464.3 625.8L1466.2 625.4L1468.2 625.1L1470.1 624.7L1472.1 624.3L1474.1 623.9L1476.0 623.5L1478.0 623.1L1479.9 622.7L1481.9 622.3L1483.8 621.9L1485.8 621.5L1487.7 621.1L1489.7 620.7L1491.6 620.2L1493.6 619.8L1495.5 619.4L1497.5 619.0L1499.4 618.6L1501.4 618.1L1503.3 617.7L1505.3 617.3L1507.2 616.8L1509.2 616.4L1511.1 616.0L1513.1 615.5L1515.0 615.1L1517.0 614.6L1518.9 614.2L1520.8 613.7L1522.8 613.3L1524.7 612.8L1526.7 612.4L1528.6 611.9L1530.6 611.4L1532.5 611.0L1534.5 610.5L1536.4 610.0L1538.3 609.5L1540.3 609.1L1542.2 608.6L1544.2 608.1L1546.1 607.6L1548.0 607.1L1550.0 606.6L1551.9 606.1L1553.9 605.6L1555.8 605.1L1557.7 604.6L1559.7 604.0L1561.6 603.5L1563.5 603.0L1565.5 602.5L1567.4 601.9L1569.4 601.4L1571.3 600.9L1573.2 600.3L1575.1 599.8L1577.1 599.2L1579.0 598.7L1580.9 598.1L1582.9 597.6L1584.8 597.0L1586.7 596.4L1588.6 595.9L1590.6 595.3L1592.5 594.7L1594.4 594.1L1596.3 593.5L1598.2 592.9L1600.1 592.3L1602.1 591.7L1604.0 591.1L1605.9 590.5L1607.8 589.9L1609.7 589.3L1611.6 588.6L1613.5 588.0L1615.4 587.4L1617.3 586.7L1619.2 586.1L1621.1 585.4L1623.0 584.8L1624.9 584.1L1626.8 583.4L1628.7 582.8L1630.6 582.1L1632.4 581.4L1634.3 580.7L1636.2 580.0L1638.1 579.3L1640.0 578.6L1641.8 577.9L1643.7 577.2L1645.6 576.5L1647.4 575.8L1649.3 575.0L1651.2 574.3L1653.0 573.6L1654.9 572.8L1656.7 572.1L1658.6 571.3L1660.4 570.6L1662.3 569.8L1664.1 569.0L1666.0 568.2L1667.8 567.4L1669.6 566.7L1671.5 565.9L1673.3 565.1L1675.1 564.2L1676.9 563.4L1678.7 562.6L1680.6 561.8L1682.4 560.9L1684.2 560.1L1686.0 559.3L1687.8 558.4L1689.6 557.5L1691.4 556.7L1693.2 555.8L1695.0 554.9L1696.7 554.0L1698.5 553.2L1700.3 552.3L1702.1 551.4L1703.9 550.4L1705.6 549.5L1707.4 548.6L1709.1 547.7L1710.9 546.7L1712.7 545.8L1714.4 544.8L1716.1 543.9L1717.9 542.9L1719.6 541.9L1721.4 541.0L1723.1 540.0L1724.8 539.0L1726.5 538.0L1728.2 537.0L1730.0 535.9L1731.7 534.9L1733.4 533.9L1735.1 532.9L1736.8 531.8L1738.4 530.8L1740.1 529.7L1741.8 528.6L1743.5 527.5L1745.2 526.5L1746.8 525.4L1748.5 524.3L1750.1 523.2L1751.8 522.1L1753.4 520.9L1755.1 519.8L1756.7 518.7L1758.4 517.5L1760.0 516.4L1761.6 515.2L1763.2 514.1L1764.9 512.9L1766.5 511.7L1768.1 510.5L1769.7 509.4L1771.3 508.2L1772.9 507.0L1774.5 505.8L1776.1 504.5L1777.7 503.3L1779.3 502.1L1780.8 500.9L1782.4 499.6L1784.0 498.4L1785.5 497.1L1787.1 495.9L1788.7 494.6L1790.2 493.4L1791.8 492.1L1793.3 490.8L1794.8 489.5L1796.4 488.3L1797.9 487.0L1799.4 485.7L1801.0 484.4L1802.5 483.1L1804.0 481.7L1805.5 480.4L1807.0 479.1L1808.5 477.8L1810.0 476.5L1811.5 475.1L1813.0 473.8L1814.5 472.4L1816.0 471.1L1817.5 469.7L1819.0 468.4L1820.5 467.0L1821.9 465.7L1823.4 464.3L1824.9 462.9L1826.3 461.5L1827.8 460.2L1829.3 458.8L1830.7 457.4L1832.2 456.0L1833.6 454.6L1835.1 453.2L1836.5 451.8L1837.9 450.4L1839.4 449.0L1840.8 447.6L1842.2 446.2L1843.6 444.7L1845.1 443.3L1846.5 441.9L1847.9 440.5L1849.3 439.0L1850.7 437.6L1852.1 436.2L1853.5 434.7L1854.9 433.3L1856.3 431.9L1857.7 430.4L1859.1 429.0L1860.5 427.5L1861.8 426.1L1863.2 424.6L1864.6 423.2L1866.0 421.7L1867.3 420.2L1868.7 418.8L1870.1 417.3L1871.4 415.9L1872.8 414.4L1874.2 412.9L1875.5 411.5L1876.9 410.0L1878.2 408.5L1879.6 407.0L1880.9 405.6L1882.2 404.1L1883.6 402.6L1884.9 401.1L1886.2 399.7L1887.6 398.2L1888.9 396.7L1890.2 395.2L1891.6 393.7L1892.9 392.2L1894.2 390.7L1895.5 389.3L1896.8 387.8L1898.2 386.3L1899.5 384.8L1900.8 383.3L1902.1 381.8L1903.4 380.3L1904.7 378.8L1906.0 377.3L1907.3 375.8L1908.6 374.3L1909.9 372.8L1911.2 371.3L1912.5 369.8L1913.8 368.3L1915.1 366.8L1916.4 365.3L1917.7 363.8L1919.0 362.3L1920.3 360.8L1921.6 359.2L1922.9 357.7L1924.2 356.2L1925.5 354.7L1926.8 353.2L1928.1 351.7L1929.4 350.2L1930.7 348.7L1932.0 347.2L1933.3 345.6L1934.6 344.1L1935.9 342.6L1937.2 341.1L1938.5 339.6L1939.8 338.1L1941.0 336.6L1942.3 335.0L1943.6 333.5L1944.9 332.0L1946.2 330.5L1947.5 329.0L1948.8 327.5L1950.1 325.9L1951.4 324.4L1952.7 322.9L1954.0 321.4L1955.3 319.9L1956.6 318.4L1957.9 316.8L1959.2 315.3L1960.5 313.8L1961.8 312.3L1963.2 310.8L1964.5 309.3L1965.8 307.7L1967.1 306.2L1968.4 304.7L1969.7 303.2L1971.0 301.7L1972.4 300.2L1973.7 298.7L1975.0 297.1L1976.3 295.6L1977.7 294.1L1979.0 292.6L1980.3 291.1L1981.7 289.6L1983.0 288.1L1984.3 286.6L1985.7 285.1L1987.0 283.6L1988.4 282.1L1989.7 280.6L1991.1 279.1L1992.4 277.6L1993.8 276.1L1995.1 274.6L1996.5 273.1L1997.9 271.6L1999.2 270.1L2000.6 268.6L2002.0 267.2L2003.4 265.7L2004.8 264.2L2006.1 262.8L2007.5 261.3L2008.9 259.9L2010.3 258.4L2011.8 257.0L2013.2 255.5L2014.6 254.1L2016.0 252.7L2017.4 251.3L2018.9 249.9L2020.3 248.4L2021.7 247.0L2023.2 245.7L2024.6 244.3L2026.1 242.9L2027.6 241.5L2029.0 240.2L2030.5 238.8L2032.0 237.5L2033.5 236.1L2035.0 234.8L2036.5 233.5L2038.0 232.2L2039.5 230.9L2041.0 229.6L2042.6 228.3L2044.1 227.0L2045.6 225.7L2047.2 224.5L2048.7 223.2L2050.3 222.0L2051.9 220.8L2053.4 219.6L2055.0 218.4L2056.6 217.2L2058.2 216.0L2059.8 214.8L2061.4 213.7L2063.1 212.5L2064.7 211.4L2066.3 210.3L2068.0 209.2L2069.6 208.1L2071.3 207.0L2073.0 205.9L2074.7 204.9L2076.3 203.9L2078.0 202.8L2079.8 201.8L2081.5 200.8L2083.2 199.8L2084.9 198.9L2086.7 197.9L2088.4 197.0L2090.2 196.1L2092.0 195.2L2093.8 194.3L2095.6 193.4L2097.4 192.5L2099.2 191.7L2101.0 190.9L2102.8 190.1L2104.6 189.3L2106.5 188.5L2108.3 187.8L2110.2 187.0L2112.1 186.3L2113.9 185.6L2115.8 184.9L2117.7 184.3L2119.6 183.6L2121.5 183.0L2123.4 182.4L2125.3 181.8L2127.2 181.2L2129.1 180.7L2131.0 180.2L2133.0 179.7L2134.9 179.2L2136.8 178.7L2138.8 178.3L2140.7 177.9L2142.7 177.5L2144.6 177.1L2146.6 176.8L2148.6 176.4L2150.5 176.1L2152.5 175.8L2154.5 175.6L2156.5 175.4L2158.4 175.1L2160.4 175.0L2162.4 174.8L2164.4 174.7L2166.4 174.6L2168.4 174.5L2170.4 174.4L2172.4 174.4L2174.4 174.4L2176.4 174.4L2178.4 174.4L2180.4 174.5L2182.4 174.6L2184.4 174.7L2186.4 174.9L2188.4 175.0L2190.4 175.3L2192.4 175.5L2194.4 175.7L2196.4 176.0L2198.4 176.3L2200.4 176.7L2202.3 177.1L2204.3 177.5L2206.3 177.9L2208.2 178.4L2210.2 178.8L2212.1 179.4L2214.0 179.9L2216.0 180.5L2217.9 181.1L2219.7 181.7L2221.6 182.4L2223.5 183.1L2225.3 183.8L2227.2 184.6L2229.0 185.3L2230.8 186.1L2232.6 187.0L2234.4 187.8L2236.2 188.7L2237.9 189.6L2239.7 190.6L2241.4 191.6L2243.1 192.5L2244.8 193.6L2246.5 194.6L2248.2 195.7L2249.8 196.7L2251.5 197.8L2253.1 199.0L2254.8 200.1L2256.4 201.3L2258.0 202.4L2259.6 203.6L2261.1 204.8L2262.7 206.1L2264.2 207.3L2265.8 208.6L2267.3 209.9L2268.8 211.1L2270.3 212.5L2271.8 213.8L2273.3 215.1L2274.7 216.5L2276.2 217.8L2277.6 219.2L2279.1 220.6L2280.5 222.0L2281.9 223.4L2283.3 224.8L2284.7 226.2L2286.1 227.7L2287.4 229.1L2288.8 230.6L2290.1 232.1L2291.5 233.6L2292.8 235.1L2294.1 236.6L2295.4 238.1L2296.7 239.6L2298.0 241.2L2299.3 242.7L2300.5 244.3L2301.8 245.8L2303.0 247.4L2304.3 249.0L2305.5 250.6L2306.7 252.2L2308.0 253.8L2309.2 255.4L2310.4 257.0L2311.5 258.6L2312.7 260.3L2313.9 261.9L2315.1 263.5L2316.2 265.2L2317.4 266.8L2318.5 268.5L2319.7 270.2L2320.8 271.8L2321.9 273.5L2323.0 275.2L2324.1 276.8L2325.2 278.5L2326.3 280.2L2327.4 281.9L2328.5 283.6L2329.6 285.3L2330.6 286.9L2331.7 288.6L2332.8 290.3L2333.8 292.0L2334.8 293.7L2335.9 295.4L2336.9 297.1L2337.9 298.8L2339.0 300.5L2340.0 302.2L2341.0 303.9L2342.0 305.6L2343.0 307.3L2344.0 309.0" fill="none" stroke="#000" stroke-width="7" stroke-linejoin="round" transform="translate(0 1.25)"/><path d="M191.0 961.7L193.0 961.7L195.0 961.8L197.0 961.8L199.0 961.9L201.0 961.9L203.0 961.9L205.0 962.0L207.0 962.0L209.1 962.0L211.1 962.0L213.1 962.1L215.1 962.1L217.1 962.1L219.1 962.1L221.1 962.2L223.1 962.2L225.1 962.2L227.1 962.2L229.1 962.2L231.1 962.2L233.1 962.2L235.1 962.2L237.1 962.2L239.1 962.3L241.1 962.3L243.1 962.3L245.1 962.3L247.1 962.3L249.2 962.3L251.2 962.2L253.2 962.2L255.2 962.2L257.2 962.2L259.2 962.2L261.2 962.2L263.2 962.2L265.2 962.2L267.2 962.2L269.2 962.1L271.2 962.1L273.2 962.1L275.2 962.1L277.2 962.1L279.2 962.0L281.2 962.0L283.2 962.0L285.2 962.0L287.2 961.9L289.2 961.9L291.2 961.9L293.2 961.8L295.2 961.8L297.2 961.8L299.2 961.7L301.2 961.7L303.2 961.6L305.2 961.6L307.2 961.6L309.2 961.5L311.3 961.5L313.3 961.4L315.3 961.4L317.3 961.3L319.3 961.3L321.3 961.2L323.3 961.2L325.3 961.1L327.3 961.1L329.3 961.0L331.3 961.0L333.3 960.9L335.3 960.9L337.3 960.8L339.3 960.7L341.3 960.7L343.3 960.6L345.3 960.5L347.3 960.5L349.3 960.4L351.3 960.4L353.3 960.3L355.3 960.2L357.3 960.1L359.3 960.1L361.3 960.0L363.3 959.9L365.3 959.9L367.3 959.8L369.3 959.7L371.3 959.6L373.3 959.6L375.3 959.5L377.3 959.4L379.3 959.3L381.3 959.3L383.3 959.2L385.3 959.1L387.3 959.0L389.3 958.9L391.3 958.9L393.3 958.8L395.3 958.7L397.3 958.6L399.3 958.5L401.3 958.4L403.3 958.3L405.3 958.3L407.3 958.2L409.3 958.1L411.3 958.0L413.3 957.9L415.3 957.8L417.3 957.7L419.3 957.6L421.3 957.5L423.3 957.4L425.3 957.3L427.3 957.2L429.3 957.2L431.3 957.1L433.3 957.0L435.3 956.9L437.3 956.8L439.3 956.7L441.3 956.6L443.3 956.5L445.3 956.4L447.3 956.3L449.3 956.2L451.3 956.1L453.3 956.0L455.3 955.9L457.3 955.8L459.3 955.7L461.3 955.6L463.3 955.5L465.3 955.4L467.3 955.3L469.3 955.2L471.3 955.0L473.3 954.9L475.3 954.8L477.3 954.7L479.3 954.6L481.3 954.5L483.3 954.4L485.3 954.3L487.3 954.2L489.3 954.1L491.3 954.0L493.3 953.9L495.3 953.8L497.3 953.7L499.3 953.6L501.3 953.5L503.3 953.3L505.3 953.2L507.3 953.1L509.3 953.0L511.3 952.9L513.3 952.8L515.3 952.7L517.3 952.6L519.3 952.5L521.3 952.4L523.3 952.3L525.3 952.2L527.3 952.0L529.3 951.9L531.3 951.8L533.3 951.7L535.3 951.6L537.3 951.5L539.3 951.4L541.3 951.3L543.3 951.2L545.3 951.1L547.3 951.0L549.3 950.8L551.3 950.7L553.3 950.6L555.3 950.5L557.3 950.4L559.3 950.3L561.3 950.2L563.3 950.1L565.3 950.0L567.3 949.9L569.3 949.8L571.3 949.7L573.3 949.6L575.3 949.5L577.3 949.3L579.3 949.2L581.3 949.1L583.3 949.0L585.3 948.9L587.3 948.8L589.3 948.7L591.3 948.6L593.3 948.5L595.3 948.4L597.3 948.3L599.3 948.2L601.3 948.1L603.3 948.0L605.3 947.9L607.3 947.8L609.3 947.7L611.3 947.6L613.3 947.5L615.3 947.4L617.3 947.3L619.3 947.2L621.3 947.1L623.3 947.0L625.3 946.9L627.3 946.8L629.3 946.7L631.3 946.6L633.3 946.5L635.3 946.4L637.3 946.3L639.3 946.2L641.3 946.1L643.3 946.0L645.3 946.0L647.3 945.9L649.3 945.8L651.3 945.7L653.3 945.6L655.3 945.5L657.3 945.4L659.3 945.3L661.3 945.2L663.3 945.2L665.3 945.1L667.3 945.0L669.3 944.9L671.3 944.8L673.3 944.7L675.3 944.7L677.3 944.6L679.3 944.5L681.3 944.4L683.3 944.3L685.3 944.3L687.3 944.2L689.3 944.1L691.3 944.0L693.3 944.0L695.3 943.9L697.3 943.8L699.3 943.7L701.3 943.7L703.3 943.6L705.3 943.5L707.3 943.5L709.3 943.4L711.3 943.3L713.3 943.3L715.3 943.2L717.3 943.1L719.3 943.1L721.3 943.0L723.3 943.0L725.3 942.9L727.3 942.8L729.3 942.8L731.3 942.7L733.3 942.7L735.3 942.6L737.3 942.6L739.3 942.5L741.3 942.5L743.3 942.4L745.3 942.4L747.3 942.3L749.3 942.3L751.3 942.2L753.3 942.2L755.4 942.2L757.4 942.1L759.4 942.1L761.4 942.0L763.4 942.0L765.4 942.0L767.4 941.9L769.4 941.9L771.4 941.9L773.4 941.8L775.4 941.8L777.4 941.8L779.4 941.7L781.4 941.7L783.4 941.7L785.4 941.7L787.4 941.6L789.4 941.6L791.4 941.6L793.4 941.6L795.4 941.6L797.4 941.6L799.4 941.5L801.4 941.5L803.4 941.5L805.4 941.5L807.4 941.5L809.4 941.5L811.5 941.5L813.5 941.5L815.5 941.5L817.5 941.5L819.5 941.5L821.5 941.5L823.5 941.5L825.5 941.5L827.5 941.5L829.5 941.5L831.5 941.5L833.5 941.5L835.5 941.5L837.5 941.5L839.5 941.5L841.5 941.5L843.5 941.6L845.5 941.6L847.5 941.6L849.5 941.6L851.5 941.6L853.5 941.6L855.6 941.6L857.6 941.6L859.6 941.6L861.6 941.6L863.6 941.6L865.6 941.6L867.6 941.6L869.6 941.6L871.6 941.5L873.6 941.5L875.6 941.5L877.6 941.5L879.6 941.5L881.6 941.4L883.6 941.4L885.6 941.4L887.6 941.4L889.6 941.3L891.6 941.3L893.6 941.2L895.6 941.2L897.6 941.1L899.6 941.1L901.6 941.0L903.6 941.0L905.6 940.9L907.6 940.8L909.6 940.7L911.6 940.7L913.6 940.6L915.6 940.5L917.6 940.4L919.6 940.3L921.5 940.2L923.5 940.1L925.5 939.9L927.5 939.8L929.5 939.7L931.5 939.5L933.5 939.4L935.5 939.2L937.5 939.1L939.5 938.9L941.5 938.8L943.4 938.6L945.4 938.4L947.4 938.2L949.4 938.0L951.4 937.8L953.4 937.6L955.4 937.4L957.4 937.1L959.3 936.9L961.3 936.6L963.3 936.4L965.3 936.1L967.3 935.9L969.2 935.6L971.2 935.3L973.2 935.0L975.2 934.7L977.2 934.4L979.1 934.0L981.1 933.7L983.1 933.4L985.1 933.0L987.0 932.6L989.0 932.3L991.0 931.9L992.9 931.5L994.9 931.1L996.9 930.7L998.9 930.3L1000.8 929.9L1002.8 929.5L1004.8 929.0L1006.7 928.6L1008.7 928.2L1010.7 927.7L1012.6 927.3L1014.6 926.9L1016.6 926.4L1018.5 926.0L1020.5 925.5L1022.5 925.1L1024.4 924.6L1026.4 924.2L1028.4 923.8L1030.3 923.3L1032.3 922.9L1034.2 922.4L1036.2 922.0L1038.2 921.6L1040.1 921.1L1042.1 920.7L1044.1 920.3L1046.0 919.9L1048.0 919.5L1050.0 919.1L1051.9 918.7L1053.9 918.3L1055.9 917.9L1057.8 917.6L1059.8 917.2L1061.8 916.8L1063.7 916.5L1065.7 916.2L1067.7 915.8L1069.6 915.5L1071.6 915.2L1073.6 915.0L1075.6 914.7L1077.5 914.4L1079.5 914.2L1081.5 913.9L1083.5 913.7L1085.4 913.5L1087.4 913.3L1089.4 913.2L1091.4 913.0L1093.3 912.9L1095.3 912.8L1097.3 912.7L1099.3 912.6L1101.3 912.5L1103.2 912.5L1105.2 912.4L1107.2 912.4L1109.2 912.4L1111.2 912.4L1113.2 912.5L1115.2 912.5L1117.1 912.5L1119.1 912.6L1121.1 912.7L1123.1 912.8L1125.1 912.9L1127.1 913.0L1129.1 913.1L1131.1 913.2L1133.1 913.4L1135.1 913.5L1137.1 913.7L1139.1 913.9L1141.1 914.1L1143.1 914.2L1145.1 914.4L1147.1 914.6L1149.1 914.8L1151.1 915.1L1153.0 915.3L1155.0 915.5L1157.0 915.7L1159.0 915.9L1161.0 916.2L1163.0 916.4L1165.1 916.7L1167.1 916.9L1169.1 917.2L1171.1 917.4L1173.1 917.6L1175.1 917.9L1177.1 918.1L1179.1 918.4L1181.1 918.6L1183.1 918.9L1185.1 919.1L1187.1 919.4L1189.1 919.6L1191.1 919.8L1193.1 920.1L1195.1 920.3L1197.1 920.5L1199.1 920.8L1201.1 921.0L1203.1 921.2L1205.1 921.4L1207.1 921.6L1209.1 921.8L1211.1 922.0L1213.1 922.1L1215.1 922.3L1217.1 922.5L1219.1 922.6L1221.1 922.8L1223.1 922.9L1225.1 923.1L1227.1 923.2L1229.1 923.3L1231.1 923.4L1233.1 923.5L1235.1 923.7L1237.1 923.8L1239.1 923.8L1241.1 923.9L1243.1 924.0L1245.1 924.1L1247.1 924.1L1249.1 924.2L1251.1 924.2L1253.1 924.3L1255.1 924.3L1257.1 924.4L1259.1 924.4L1261.1 924.4L1263.1 924.4L1265.1 924.4L1267.1 924.4L1269.1 924.4L1271.1 924.4L1273.1 924.3L1275.1 924.3L1277.1 924.3L1279.1 924.2L1281.1 924.2L1283.1 924.1L1285.1 924.1L1287.1 924.0L1289.1 923.9L1291.1 923.8L1293.1 923.7L1295.1 923.6L1297.1 923.5L1299.1 923.4L1301.1 923.3L1303.1 923.2L1305.1 923.0L1307.1 922.9L1309.0 922.7L1311.0 922.6L1313.0 922.4L1315.0 922.2L1317.0 922.1L1319.0 921.9L1321.0 921.7L1323.0 921.5L1325.0 921.3L1327.0 921.1L1329.0 920.9L1331.0 920.7L1333.0 920.5L1335.0 920.3L1337.0 920.1L1338.9 919.8L1340.9 919.6L1342.9 919.4L1344.9 919.2L1346.9 918.9L1348.9 918.7L1350.9 918.5L1352.9 918.2L1354.9 918.0L1356.9 917.7L1358.9 917.5L1360.9 917.3L1362.8 917.0L1364.8 916.8L1366.8 916.5L1368.8 916.3L1370.8 916.1L1372.8 915.8L1374.8 915.6L1376.8 915.4L1378.8 915.1L1380.8 914.9L1382.8 914.7L1384.7 914.4L1386.7 914.2L1388.7 914.0L1390.7 913.8L1392.7 913.6L1394.7 913.4L1396.7 913.2L1398.7 913.0L1400.7 912.8L1402.7 912.6L1404.7 912.4L1406.7 912.2L1408.6 912.0L1410.6 911.9L1412.6 911.7L1414.6 911.5L1416.6 911.4L1418.6 911.3L1420.6 911.1L1422.6 911.0L1424.6 910.9L1426.6 910.8L1428.6 910.7L1430.6 910.6L1432.6 910.5L1434.6 910.4L1436.6 910.3L1438.6 910.3L1440.5 910.2L1442.5 910.2L1444.5 910.1L1446.5 910.1L1448.5 910.1L1450.5 910.1L1452.5 910.1L1454.5 910.1L1456.5 910.1L1458.5 910.1L1460.5 910.2L1462.5 910.2L1464.5 910.2L1466.5 910.3L1468.5 910.3L1470.5 910.4L1472.5 910.5L1474.5 910.5L1476.5 910.6L1478.5 910.7L1480.5 910.8L1482.5 910.8L1484.5 910.9L1486.5 911.0L1488.5 911.1L1490.5 911.2L1492.5 911.3L1494.5 911.4L1496.5 911.5L1498.5 911.7L1500.5 911.8L1502.5 911.9L1504.5 912.0L1506.5 912.1L1508.5 912.2L1510.5 912.4L1512.5 912.5L1514.5 912.6L1516.5 912.7L1518.5 912.9L1520.5 913.0L1522.5 913.1L1524.5 913.2L1526.5 913.3L1528.5 913.5L1530.5 913.6L1532.5 913.7L1534.5 913.8L1536.5 913.9L1538.6 914.0L1540.6 914.1L1542.6 914.2L1544.6 914.3L1546.6 914.4L1548.6 914.5L1550.6 914.6L1552.6 914.7L1554.6 914.8L1556.6 914.9L1558.6 915.0L1560.6 915.1L1562.6 915.2L1564.6 915.2L1566.6 915.3L1568.6 915.4L1570.6 915.5L1572.6 915.5L1574.6 915.6L1576.6 915.7L1578.6 915.7L1580.6 915.8L1582.7 915.8L1584.7 915.9L1586.7 915.9L1588.7 916.0L1590.7 916.0L1592.7 916.1L1594.7 916.1L1596.7 916.1L1598.7 916.2L1600.7 916.2L1602.7 916.2L1604.7 916.2L1606.7 916.3L1608.7 916.3L1610.7 916.3L1612.7 916.3L1614.7 916.3L1616.7 916.3L1618.7 916.3L1620.7 916.3L1622.7 916.3L1624.8 916.3L1626.8 916.3L1628.8 916.3L1630.8 916.3L1632.8 916.3L1634.8 916.3L1636.8 916.3L1638.8 916.2L1640.8 916.2L1642.8 916.2L1644.8 916.2L1646.8 916.1L1648.8 916.1L1650.8 916.1L1652.8 916.0L1654.8 916.0L1656.8 915.9L1658.8 915.9L1660.8 915.8L1662.8 915.8L1664.8 915.7L1666.8 915.6L1668.8 915.6L1670.8 915.5L1672.8 915.4L1674.8 915.4L1676.8 915.3L1678.8 915.2L1680.8 915.1L1682.8 915.0L1684.9 915.0L1686.9 914.9L1688.9 914.8L1690.9 914.7L1692.9 914.6L1694.9 914.5L1696.9 914.4L1698.9 914.3L1700.9 914.1L1702.9 914.0L1704.9 913.9L1706.9 913.8L1708.9 913.7L1710.9 913.5L1712.9 913.4L1714.8 913.3L1716.8 913.1L1718.8 913.0L1720.8 912.8L1722.8 912.7L1724.8 912.6L1726.8 912.4L1728.8 912.2L1730.8 912.1L1732.8 911.9L1734.8 911.8L1736.8 911.6L1738.8 911.4L1740.8 911.3L1742.8 911.1L1744.8 910.9L1746.8 910.7L1748.8 910.5L1750.8 910.3L1752.8 910.1L1754.8 909.9L1756.8 909.7L1758.8 909.5L1760.7 909.3L1762.7 909.1L1764.7 908.9L1766.7 908.7L1768.7 908.5L1770.7 908.3L1772.7 908.0L1774.7 907.8L1776.7 907.6L1778.7 907.3L1780.6 907.1L1782.6 906.9L1784.6 906.6L1786.6 906.4L1788.6 906.1L1790.6 905.9L1792.6 905.6L1794.6 905.4L1796.5 905.1L1798.5 904.8L1800.5 904.6L1802.5 904.3L1804.5 904.0L1806.5 903.7L1808.5 903.4L1810.4 903.1L1812.4 902.9L1814.4 902.6L1816.4 902.3L1818.4 902.0L1820.3 901.7L1822.3 901.3L1824.3 901.0L1826.3 900.7L1828.3 900.4L1830.2 900.1L1832.2 899.7L1834.2 899.4L1836.2 899.1L1838.1 898.7L1840.1 898.4L1842.1 898.1L1844.1 897.7L1846.0 897.4L1848.0 897.0L1850.0 896.6L1851.9 896.3L1853.9 895.9L1855.9 895.5L1857.8 895.2L1859.8 894.8L1861.8 894.4L1863.7 894.0L1865.7 893.6L1867.7 893.2L1869.6 892.8L1871.6 892.4L1873.6 892.0L1875.5 891.6L1877.5 891.2L1879.4 890.8L1881.4 890.4L1883.3 889.9L1885.3 889.5L1887.3 889.1L1889.2 888.6L1891.2 888.2L1893.1 887.7L1895.1 887.3L1897.0 886.8L1899.0 886.4L1900.9 885.9L1902.8 885.4L1904.8 885.0L1906.7 884.5L1908.7 884.0L1910.6 883.5L1912.6 883.1L1914.5 882.6L1916.4 882.1L1918.4 881.6L1920.3 881.1L1922.2 880.5L1924.2 880.0L1926.1 879.5L1928.0 879.0L1930.0 878.5L1931.9 877.9L1933.8 877.4L1935.7 876.9L1937.7 876.3L1939.6 875.8L1941.5 875.2L1943.4 874.7L1945.4 874.1L1947.3 873.5L1949.2 873.0L1951.1 872.4L1953.0 871.8L1954.9 871.2L1956.8 870.6L1958.8 870.1L1960.7 869.5L1962.6 868.9L1964.5 868.3L1966.4 867.6L1968.3 867.0L1970.2 866.4L1972.1 865.8L1974.0 865.2L1975.9 864.6L1977.8 863.9L1979.7 863.3L1981.6 862.7L1983.5 862.0L1985.4 861.4L1987.3 860.7L1989.2 860.1L1991.0 859.4L1992.9 858.8L1994.8 858.1L1996.7 857.4L1998.6 856.8L2000.5 856.1L2002.4 855.4L2004.3 854.7L2006.1 854.1L2008.0 853.4L2009.9 852.7L2011.8 852.0L2013.7 851.3L2015.5 850.6L2017.4 849.9L2019.3 849.2L2021.2 848.5L2023.0 847.8L2024.9 847.1L2026.8 846.4L2028.7 845.6L2030.5 844.9L2032.4 844.2L2034.3 843.5L2036.1 842.8L2038.0 842.0L2039.9 841.3L2041.7 840.6L2043.6 839.8L2045.5 839.1L2047.3 838.4L2049.2 837.6L2051.1 836.9L2052.9 836.1L2054.8 835.4L2056.6 834.6L2058.5 833.9L2060.4 833.1L2062.2 832.4L2064.1 831.6L2065.9 830.8L2067.8 830.1L2069.6 829.3L2071.5 828.5L2073.4 827.8L2075.2 827.0L2077.1 826.2L2078.9 825.5L2080.8 824.7L2082.6 823.9L2084.5 823.1L2086.3 822.3L2088.2 821.6L2090.0 820.8L2091.9 820.0L2093.7 819.2L2095.6 818.4L2097.4 817.6L2099.3 816.9L2101.1 816.1L2103.0 815.3L2104.8 814.5L2106.7 813.7L2108.5 812.9L2110.3 812.1L2112.2 811.3L2114.0 810.5L2115.9 809.7L2117.7 808.9L2119.6 808.1L2121.4 807.3L2123.3 806.5L2125.1 805.7L2126.9 804.9L2128.8 804.2L2130.6 803.4L2132.5 802.6L2134.3 801.8L2136.2 801.0L2138.0 800.2L2139.9 799.4L2141.7 798.6L2143.5 797.8L2145.4 797.0L2147.2 796.2L2149.1 795.4L2150.9 794.6L2152.8 793.8L2154.6 793.0L2156.5 792.2L2158.3 791.4L2160.1 790.7L2162.0 789.9L2163.8 789.1L2165.7 788.3L2167.5 787.5L2169.4 786.7L2171.2 785.9L2173.1 785.2L2174.9 784.4L2176.8 783.6L2178.6 782.8L2180.5 782.1L2182.3 781.3L2184.2 780.5L2186.0 779.8L2187.9 779.0L2189.7 778.2L2191.6 777.5L2193.4 776.7L2195.3 775.9L2197.2 775.2L2199.0 774.4L2200.9 773.7L2202.7 772.9L2204.6 772.2L2206.5 771.5L2208.3 770.7L2210.2 770.0L2212.0 769.2L2213.9 768.5L2215.8 767.8L2217.6 767.1L2219.5 766.3L2221.4 765.6L2223.2 764.9L2225.1 764.2L2227.0 763.5L2228.8 762.8L2230.7 762.1L2232.6 761.4L2234.5 760.7L2236.4 760.0L2238.2 759.3L2240.1 758.6L2242.0 757.9L2243.9 757.3L2245.8 756.6L2247.6 755.9L2249.5 755.3L2251.4 754.6L2253.3 754.0L2255.2 753.3L2257.1 752.7L2259.0 752.0L2260.9 751.4L2262.8 750.8L2264.7 750.2L2266.6 749.6L2268.5 749.0L2270.4 748.4L2272.3 747.8L2274.2 747.3L2276.1 746.7L2278.0 746.2L2279.9 745.6L2281.9 745.1L2283.8 744.6L2285.7 744.1L2287.6 743.6L2289.6 743.2L2291.5 742.7L2293.4 742.3L2295.4 741.8L2297.3 741.4L2299.3 741.0L2301.2 740.7L2303.2 740.3L2305.1 739.9L2307.1 739.6L2309.0 739.3L2311.0 739.0L2313.0 738.7L2314.9 738.5L2316.9 738.2L2318.9 738.0L2320.9 737.8L2322.9 737.6L2324.9 737.4L2326.9 737.3L2328.9 737.2L2330.9 737.1L2332.9 737.0L2334.9 737.0L2336.9 736.9L2338.9 736.9L2340.9 736.9L2343.0 737.0L2345.0 737.1" fill="none" stroke="#f00" stroke-width="7" stroke-linejoin="round"/><path d="M191.0 1583.4L193.0 1583.4L195.0 1583.3L197.0 1583.3L199.0 1583.2L200.9 1583.2L202.9 1583.1L204.9 1583.1L206.9 1583.1L208.9 1583.0L210.9 1583.0L212.9 1583.0L214.9 1582.9L216.9 1582.9L218.9 1582.9L220.9 1582.9L222.9 1582.8L224.9 1582.8L226.9 1582.8L228.9 1582.8L231.0 1582.8L233.0 1582.7L235.0 1582.7L237.0 1582.7L239.0 1582.7L241.0 1582.6L243.0 1582.6L245.0 1582.6L247.0 1582.6L249.0 1582.5L251.0 1582.5L253.0 1582.5L255.1 1582.4L257.1 1582.4L259.1 1582.4L261.1 1582.3L263.1 1582.3L265.1 1582.2L267.1 1582.2L269.1 1582.1L271.1 1582.1L273.1 1582.0L275.1 1582.0L277.1 1581.9L279.2 1581.8L281.2 1581.7L283.2 1581.7L285.2 1581.6L287.2 1581.5L289.2 1581.4L291.2 1581.3L293.2 1581.2L295.2 1581.1L297.2 1580.9L299.2 1580.8L301.1 1580.7L303.1 1580.5L305.1 1580.4L307.1 1580.3L309.1 1580.1L311.1 1579.9L313.1 1579.8L315.1 1579.6L317.0 1579.4L319.0 1579.2L321.0 1579.0L323.0 1578.8L325.0 1578.6L326.9 1578.4L328.9 1578.1L330.9 1577.9L332.9 1577.7L334.8 1577.4L336.8 1577.2L338.8 1576.9L340.8 1576.7L342.7 1576.4L344.7 1576.1L346.7 1575.9L348.6 1575.6L350.6 1575.3L352.6 1575.0L354.6 1574.7L356.5 1574.4L358.5 1574.1L360.5 1573.8L362.5 1573.5L364.4 1573.2L366.4 1572.9L368.4 1572.6L370.4 1572.3L372.4 1572.0L374.4 1571.6L376.4 1571.3L378.3 1571.0L380.3 1570.7L382.3 1570.3L384.3 1570.0L386.3 1569.7L388.3 1569.3L390.3 1568.9L392.3 1568.6L394.3 1568.2L396.2 1567.8L398.2 1567.4L400.2 1567.0L402.2 1566.6L404.1 1566.1L406.1 1565.7L408.0 1565.2L410.0 1564.7L411.9 1564.2L413.9 1563.6L415.8 1563.1L417.7 1562.5L419.6 1561.9L421.6 1561.3L423.5 1560.7L425.3 1560.0L427.2 1559.4L429.1 1558.7L430.9 1557.9L432.8 1557.2L434.6 1556.4L436.5 1555.6L438.3 1554.8L440.1 1553.9L441.9 1553.0L443.7 1552.1L445.4 1551.2L447.2 1550.3L448.9 1549.3L450.7 1548.3L452.4 1547.3L454.1 1546.2L455.8 1545.2L457.5 1544.1L459.2 1543.0L460.8 1541.9L462.5 1540.8L464.1 1539.6L465.7 1538.4L467.4 1537.2L468.9 1536.0L470.5 1534.8L472.1 1533.6L473.6 1532.3L475.2 1531.0L476.7 1529.7L478.2 1528.4L479.7 1527.0L481.2 1525.7L482.7 1524.3L484.1 1522.9L485.5 1521.5L487.0 1520.1L488.4 1518.7L489.8 1517.2L491.1 1515.8L492.5 1514.3L493.8 1512.8L495.1 1511.3L496.5 1509.8L497.7 1508.3L499.0 1506.7L500.3 1505.2L501.5 1503.6L502.7 1502.0L503.9 1500.5L505.1 1498.9L506.3 1497.2L507.4 1495.6L508.6 1494.0L509.7 1492.4L510.8 1490.7L511.9 1489.0L513.0 1487.4L514.0 1485.7L515.1 1484.0L516.1 1482.3L517.1 1480.6L518.2 1478.9L519.1 1477.2L520.1 1475.4L521.1 1473.7L522.1 1472.0L523.0 1470.2L524.0 1468.4L524.9 1466.7L525.8 1464.9L526.7 1463.1L527.6 1461.4L528.5 1459.6L529.4 1457.8L530.3 1456.0L531.1 1454.2L532.0 1452.4L532.8 1450.6L533.7 1448.7L534.5 1446.9L535.4 1445.1L536.2 1443.3L537.0 1441.4L537.8 1439.6L538.7 1437.8L539.5 1436.0L540.3 1434.1L541.1 1432.3L541.9 1430.4L542.7 1428.6L543.5 1426.8L544.3 1424.9L545.1 1423.1L545.9 1421.2L546.7 1419.4L547.4 1417.5L548.2 1415.7L549.0 1413.8L549.8 1412.0L550.6 1410.1L551.4 1408.3L552.1 1406.4L552.9 1404.6L553.7 1402.7L554.5 1400.9L555.2 1399.0L556.0 1397.2L556.8 1395.3L557.5 1393.5L558.3 1391.6L559.0 1389.8L559.8 1387.9L560.6 1386.0L561.3 1384.2L562.1 1382.3L562.8 1380.5L563.6 1378.6L564.3 1376.7L565.1 1374.9L565.8 1373.0L566.6 1371.1L567.3 1369.3L568.0 1367.4L568.8 1365.6L569.5 1363.7L570.3 1361.8L571.0 1360.0L571.7 1358.1L572.5 1356.2L573.2 1354.4L573.9 1352.5L574.7 1350.6L575.4 1348.7L576.1 1346.9L576.8 1345.0L577.6 1343.1L578.3 1341.3L579.0 1339.4L579.7 1337.5L580.4 1335.7L581.1 1333.8L581.9 1331.9L582.6 1330.0L583.3 1328.2L584.0 1326.3L584.7 1324.4L585.4 1322.5L586.1 1320.7L586.8 1318.8L587.5 1316.9L588.3 1315.0L589.0 1313.2L589.7 1311.3L590.4 1309.4L591.1 1307.5L591.8 1305.7L592.5 1303.8L593.2 1301.9L593.9 1300.0L594.6 1298.1L595.2 1296.3L595.9 1294.4L596.6 1292.5L597.3 1290.6L598.0 1288.7L598.7 1286.9L599.4 1285.0L600.1 1283.1L600.8 1281.2L601.5 1279.4L602.2 1277.5L602.8 1275.6L603.5 1273.7L604.2 1271.8L604.9 1270.0L605.6 1268.1L606.3 1266.2L607.0 1264.3L607.6 1262.4L608.3 1260.6L609.0 1258.7L609.7 1256.8L610.4 1254.9L611.0 1253.0L611.7 1251.2L612.4 1249.3L613.1 1247.4L613.7 1245.5L614.4 1243.7L615.1 1241.8L615.8 1239.9L616.5 1238.0L617.1 1236.1L617.8 1234.3L618.5 1232.4L619.2 1230.5L619.8 1228.6L620.5 1226.8L621.2 1224.9L621.8 1223.0L622.5 1221.1L623.2 1219.2L623.9 1217.4L624.5 1215.5L625.2 1213.6L625.9 1211.7L626.5 1209.9L627.2 1208.0L627.9 1206.1L628.6 1204.2L629.2 1202.4L629.9 1200.5L630.6 1198.6L631.2 1196.8L631.9 1194.9L632.6 1193.0L633.3 1191.1L633.9 1189.3L634.6 1187.4L635.3 1185.5L635.9 1183.7L636.6 1181.8L637.3 1179.9L638.0 1178.1L638.6 1176.2L639.3 1174.3L640.0 1172.5L640.6 1170.6L641.3 1168.7L642.0 1166.9L642.7 1165.0L643.3 1163.1L644.0 1161.3L644.7 1159.4L645.4 1157.5L646.0 1155.7L646.7 1153.8L647.4 1152.0L648.1 1150.1L648.7 1148.2L649.4 1146.4L650.1 1144.5L650.8 1142.6L651.5 1140.8L652.2 1138.9L652.9 1137.0L653.6 1135.1L654.4 1133.2L655.1 1131.3L655.9 1129.4L656.7 1127.4L657.5 1125.5L658.3 1123.5L659.1 1121.5L660.0 1119.6L660.9 1117.5L661.8 1115.5L662.7 1113.5L663.6 1111.5L664.7 1109.5L665.7 1107.5L666.8 1105.6L668.0 1103.7L669.3 1101.9L670.6 1100.2L672.0 1098.6L673.4 1097.2L675.0 1096.0L676.5 1095.1L678.1 1094.3L679.7 1093.9L681.3 1093.7L682.9 1093.8L684.5 1094.1L686.1 1094.6L687.6 1095.3L689.0 1096.1L690.4 1097.2L691.7 1098.4L693.0 1099.8L694.2 1101.3L695.3 1103.0L696.4 1104.7L697.4 1106.5L698.3 1108.5L699.3 1110.4L700.1 1112.5L701.0 1114.6L701.8 1116.7L702.6 1118.8L703.4 1121.0L704.2 1123.1L705.0 1125.2L705.7 1127.3L706.5 1129.3L707.3 1131.4L708.0 1133.4L708.8 1135.3L709.5 1137.3L710.2 1139.3L711.0 1141.2L711.7 1143.1L712.4 1145.0L713.2 1146.9L713.9 1148.7L714.6 1150.6L715.3 1152.4L716.0 1154.3L716.7 1156.1L717.4 1157.9L718.1 1159.7L718.8 1161.5L719.5 1163.3L720.2 1165.1L720.9 1166.9L721.5 1168.7L722.2 1170.5L722.9 1172.3L723.5 1174.1L724.2 1175.9L724.8 1177.7L725.5 1179.5L726.1 1181.4L726.8 1183.2L727.4 1185.1L728.0 1186.9L728.6 1188.8L729.3 1190.6L729.9 1192.5L730.5 1194.4L731.1 1196.3L731.7 1198.2L732.3 1200.1L732.9 1202.0L733.5 1204.0L734.1 1205.9L734.7 1207.8L735.3 1209.8L735.9 1211.7L736.4 1213.6L737.0 1215.6L737.6 1217.5L738.2 1219.5L738.8 1221.4L739.3 1223.4L739.9 1225.3L740.5 1227.3L741.1 1229.3L741.6 1231.2L742.2 1233.2L742.8 1235.1L743.3 1237.1L743.9 1239.0L744.5 1241.0L745.0 1242.9L745.6 1244.9L746.2 1246.8L746.7 1248.7L747.3 1250.7L747.9 1252.6L748.5 1254.5L749.0 1256.5L749.6 1258.4L750.2 1260.3L750.7 1262.2L751.3 1264.1L751.9 1266.1L752.5 1268.0L753.1 1269.9L753.7 1271.8L754.2 1273.7L754.8 1275.6L755.4 1277.5L756.0 1279.4L756.6 1281.3L757.2 1283.2L757.8 1285.0L758.4 1286.9L759.0 1288.8L759.6 1290.7L760.3 1292.6L760.9 1294.5L761.5 1296.3L762.1 1298.2L762.8 1300.1L763.4 1302.0L764.1 1303.8L764.7 1305.7L765.4 1307.6L766.0 1309.5L766.7 1311.3L767.4 1313.2L768.0 1315.1L768.7 1316.9L769.4 1318.8L770.1 1320.7L770.8 1322.5L771.5 1324.4L772.2 1326.3L772.9 1328.1L773.6 1330.0L774.4 1331.9L775.1 1333.7L775.8 1335.6L776.6 1337.5L777.3 1339.3L778.0 1341.2L778.8 1343.0L779.6 1344.9L780.3 1346.8L781.1 1348.6L781.8 1350.5L782.6 1352.3L783.4 1354.2L784.2 1356.0L784.9 1357.9L785.7 1359.7L786.5 1361.6L787.3 1363.5L788.1 1365.3L788.9 1367.2L789.7 1369.0L790.5 1370.9L791.3 1372.7L792.0 1374.6L792.8 1376.4L793.6 1378.3L794.4 1380.1L795.2 1382.0L796.0 1383.8L796.8 1385.7L797.6 1387.5L798.4 1389.3L799.2 1391.2L800.0 1393.0L800.8 1394.9L801.6 1396.7L802.4 1398.6L803.2 1400.4L804.0 1402.2L804.8 1404.1L805.6 1405.9L806.4 1407.8L807.2 1409.6L808.0 1411.4L808.8 1413.3L809.6 1415.1L810.4 1416.9L811.2 1418.7L812.0 1420.6L812.8 1422.4L813.7 1424.2L814.5 1426.0L815.3 1427.8L816.2 1429.6L817.0 1431.4L817.9 1433.2L818.8 1435.0L819.6 1436.7L820.5 1438.5L821.4 1440.3L822.4 1442.0L823.3 1443.8L824.2 1445.5L825.2 1447.3L826.2 1449.0L827.1 1450.7L828.1 1452.4L829.1 1454.2L830.2 1455.9L831.2 1457.6L832.3 1459.3L833.3 1461.0L834.4 1462.6L835.5 1464.3L836.6 1466.0L837.8 1467.6L838.9 1469.3L840.1 1470.9L841.3 1472.6L842.5 1474.2L843.7 1475.8L845.0 1477.5L846.2 1479.1L847.5 1480.7L848.8 1482.3L850.1 1483.8L851.5 1485.4L852.9 1486.9L854.3 1488.4L855.7 1489.8L857.1 1491.3L858.6 1492.7L860.1 1494.0L861.6 1495.4L863.2 1496.6L864.7 1497.9L866.3 1499.1L868.0 1500.2L869.6 1501.3L871.3 1502.3L873.0 1503.3L874.8 1504.2L876.6 1505.0L878.4 1505.8L880.2 1506.5L882.1 1507.1L884.0 1507.7L885.9 1508.3L887.8 1508.8L889.7 1509.3L891.7 1509.7L893.7 1510.1L895.6 1510.5L897.6 1510.9L899.6 1511.3L901.6 1511.6L903.6 1512.0L905.6 1512.3L907.5 1512.7L909.5 1513.0L911.5 1513.3L913.5 1513.6L915.5 1513.9L917.5 1514.2L919.4 1514.5L921.4 1514.8L923.4 1515.1L925.4 1515.4L927.4 1515.7L929.4 1516.0L931.4 1516.2L933.3 1516.5L935.3 1516.7L937.3 1517.0L939.3 1517.3L941.3 1517.5L943.3 1517.8L945.3 1518.0L947.2 1518.2L949.2 1518.5L951.2 1518.7L953.2 1518.9L955.2 1519.2L957.2 1519.4L959.2 1519.6L961.1 1519.9L963.1 1520.1L965.1 1520.3L967.1 1520.5L969.1 1520.8L971.1 1521.0L973.1 1521.2L975.0 1521.4L977.0 1521.7L979.0 1521.9L981.0 1522.1L983.0 1522.4L985.0 1522.6L986.9 1522.8L988.9 1523.0L990.9 1523.3L992.9 1523.5L994.9 1523.8L996.9 1524.0L998.8 1524.2L1000.8 1524.5L1002.8 1524.7L1004.8 1525.0L1006.8 1525.2L1008.7 1525.5L1010.7 1525.8L1012.7 1526.0L1014.7 1526.3L1016.6 1526.6L1018.6 1526.9L1020.6 1527.2L1022.6 1527.4L1024.6 1527.7L1026.5 1528.0L1028.5 1528.4L1030.5 1528.7L1032.5 1529.0L1034.4 1529.3L1036.4 1529.7L1038.4 1530.0L1040.3 1530.3L1042.3 1530.7L1044.3 1531.0L1046.2 1531.4L1048.2 1531.8L1050.2 1532.1L1052.2 1532.5L1054.1 1532.9L1056.1 1533.3L1058.1 1533.7L1060.0 1534.0L1062.0 1534.4L1064.0 1534.8L1065.9 1535.2L1067.9 1535.6L1069.9 1536.0L1071.8 1536.4L1073.8 1536.9L1075.8 1537.3L1077.7 1537.7L1079.7 1538.1L1081.6 1538.5L1083.6 1538.9L1085.6 1539.3L1087.5 1539.8L1089.5 1540.2L1091.5 1540.6L1093.4 1541.0L1095.4 1541.4L1097.4 1541.8L1099.3 1542.3L1101.3 1542.7L1103.3 1543.1L1105.2 1543.5L1107.2 1543.9L1109.2 1544.3L1111.1 1544.7L1113.1 1545.1L1115.0 1545.5L1117.0 1545.9L1119.0 1546.3L1120.9 1546.7L1122.9 1547.1L1124.9 1547.5L1126.8 1547.9L1128.8 1548.3L1130.8 1548.7L1132.8 1549.0L1134.7 1549.4L1136.7 1549.8L1138.7 1550.1L1140.6 1550.5L1142.6 1550.8L1144.6 1551.2L1146.5 1551.5L1148.5 1551.9L1150.5 1552.2L1152.5 1552.5L1154.4 1552.8L1156.4 1553.1L1158.4 1553.4L1160.4 1553.7L1162.3 1554.0L1164.3 1554.3L1166.3 1554.6L1168.3 1554.8L1170.2 1555.1L1172.2 1555.3L1174.2 1555.6L1176.2 1555.8L1178.2 1556.0L1180.1 1556.2L1182.1 1556.4L1184.1 1556.6L1186.1 1556.8L1188.1 1557.0L1190.1 1557.2L1192.1 1557.3L1194.0 1557.5L1196.0 1557.6L1198.0 1557.8L1200.0 1557.9L1202.0 1558.0L1204.0 1558.1L1206.0 1558.2L1208.0 1558.3L1210.0 1558.4L1212.0 1558.5L1214.0 1558.5L1216.0 1558.6L1217.9 1558.7L1219.9 1558.7L1221.9 1558.8L1223.9 1558.8L1225.9 1558.8L1227.9 1558.9L1229.9 1558.9L1231.9 1558.9L1233.9 1558.9L1235.9 1558.9L1237.9 1558.9L1239.9 1558.9L1241.9 1558.9L1243.9 1558.9L1245.9 1558.8L1247.9 1558.8L1249.9 1558.8L1251.9 1558.7L1253.9 1558.7L1256.0 1558.6L1258.0 1558.6L1260.0 1558.5L1262.0 1558.4L1264.0 1558.4L1266.0 1558.3L1268.0 1558.2L1270.0 1558.1L1272.0 1558.1L1274.0 1558.0L1276.0 1557.9L1278.0 1557.8L1280.0 1557.7L1282.0 1557.6L1284.0 1557.5L1286.0 1557.4L1288.0 1557.3L1290.0 1557.1L1292.0 1557.0L1294.0 1556.9L1296.0 1556.8L1298.1 1556.7L1300.1 1556.6L1302.1 1556.4L1304.1 1556.3L1306.1 1556.2L1308.1 1556.0L1310.1 1555.9L1312.1 1555.8L1314.1 1555.7L1316.1 1555.5L1318.1 1555.4L1320.1 1555.2L1322.1 1555.1L1324.1 1555.0L1326.1 1554.8L1328.1 1554.7L1330.1 1554.6L1332.1 1554.4L1334.1 1554.3L1336.1 1554.1L1338.1 1554.0L1340.1 1553.8L1342.1 1553.7L1344.1 1553.5L1346.1 1553.4L1348.1 1553.2L1350.1 1553.1L1352.1 1552.9L1354.1 1552.8L1356.1 1552.6L1358.1 1552.5L1360.1 1552.3L1362.1 1552.1L1364.1 1552.0L1366.1 1551.8L1368.1 1551.6L1370.1 1551.5L1372.1 1551.3L1374.1 1551.1L1376.1 1550.9L1378.1 1550.8L1380.1 1550.6L1382.1 1550.4L1384.1 1550.2L1386.0 1550.0L1388.0 1549.8L1390.0 1549.6L1392.0 1549.4L1394.0 1549.2L1396.0 1549.0L1398.0 1548.8L1400.0 1548.6L1402.0 1548.4L1403.9 1548.1L1405.9 1547.9L1407.9 1547.7L1409.9 1547.5L1411.9 1547.2L1413.9 1547.0L1415.8 1546.7L1417.8 1546.5L1419.8 1546.2L1421.8 1546.0L1423.8 1545.7L1425.7 1545.5L1427.7 1545.2L1429.7 1544.9L1431.7 1544.7L1433.7 1544.4L1435.6 1544.1L1437.6 1543.8L1439.6 1543.5L1441.6 1543.2L1443.5 1542.9L1445.5 1542.6L1447.5 1542.3L1449.4 1542.0L1451.4 1541.7L1453.4 1541.3L1455.3 1541.0L1457.3 1540.7L1459.3 1540.3L1461.2 1540.0L1463.2 1539.6L1465.2 1539.2L1467.1 1538.9L1469.1 1538.5L1471.1 1538.1L1473.0 1537.8L1475.0 1537.4L1476.9 1537.0L1478.9 1536.6L1480.8 1536.2L1482.8 1535.8L1484.8 1535.4L1486.7 1535.0L1488.7 1534.6L1490.6 1534.1L1492.6 1533.7L1494.5 1533.3L1496.5 1532.9L1498.4 1532.4L1500.4 1532.0L1502.3 1531.5L1504.3 1531.1L1506.2 1530.6L1508.2 1530.2L1510.1 1529.7L1512.1 1529.3L1514.0 1528.8L1515.9 1528.3L1517.9 1527.8L1519.8 1527.4L1521.8 1526.9L1523.7 1526.4L1525.7 1525.9L1527.6 1525.4L1529.5 1524.9L1531.5 1524.4L1533.4 1523.9L1535.4 1523.4L1537.3 1522.9L1539.2 1522.4L1541.2 1521.9L1543.1 1521.4L1545.0 1520.9L1547.0 1520.3L1548.9 1519.8L1550.8 1519.3L1552.8 1518.7L1554.7 1518.2L1556.6 1517.7L1558.6 1517.1L1560.5 1516.6L1562.4 1516.1L1564.4 1515.5L1566.3 1515.0L1568.2 1514.4L1570.1 1513.9L1572.1 1513.3L1574.0 1512.8L1575.9 1512.2L1577.9 1511.6L1579.8 1511.1L1581.7 1510.5L1583.6 1510.0L1585.6 1509.4L1587.5 1508.8L1589.4 1508.2L1591.3 1507.7L1593.3 1507.1L1595.2 1506.5L1597.1 1506.0L1599.0 1505.4L1600.9 1504.8L1602.9 1504.2L1604.8 1503.6L1606.7 1503.1L1608.6 1502.5L1610.5 1501.9L1612.5 1501.3L1614.4 1500.7L1616.3 1500.1L1618.2 1499.5L1620.1 1498.9L1622.0 1498.3L1623.9 1497.7L1625.9 1497.1L1627.8 1496.4L1629.7 1495.8L1631.6 1495.2L1633.5 1494.5L1635.4 1493.9L1637.2 1493.3L1639.1 1492.6L1641.0 1491.9L1642.9 1491.3L1644.8 1490.6L1646.7 1489.9L1648.6 1489.2L1650.4 1488.5L1652.3 1487.8L1654.2 1487.1L1656.0 1486.4L1657.9 1485.7L1659.7 1484.9L1661.6 1484.2L1663.4 1483.5L1665.3 1482.7L1667.1 1481.9L1669.0 1481.1L1670.8 1480.4L1672.6 1479.6L1674.4 1478.7L1676.3 1477.9L1678.1 1477.1L1679.9 1476.2L1681.7 1475.4L1683.5 1474.5L1685.3 1473.7L1687.1 1472.8L1688.8 1471.9L1690.6 1471.0L1692.4 1470.1L1694.2 1469.2L1695.9 1468.2L1697.7 1467.3L1699.5 1466.4L1701.2 1465.4L1703.0 1464.5L1704.7 1463.5L1706.5 1462.5L1708.2 1461.5L1709.9 1460.5L1711.7 1459.5L1713.4 1458.5L1715.1 1457.5L1716.8 1456.5L1718.6 1455.5L1720.3 1454.4L1722.0 1453.4L1723.7 1452.4L1725.4 1451.3L1727.1 1450.2L1728.8 1449.2L1730.5 1448.1L1732.1 1447.0L1733.8 1445.9L1735.5 1444.8L1737.2 1443.7L1738.8 1442.6L1740.5 1441.5L1742.2 1440.4L1743.8 1439.3L1745.5 1438.2L1747.1 1437.0L1748.8 1435.9L1750.4 1434.8L1752.1 1433.6L1753.7 1432.5L1755.4 1431.3L1757.0 1430.2L1758.6 1429.0L1760.3 1427.8L1761.9 1426.7L1763.5 1425.5L1765.1 1424.3L1766.7 1423.1L1768.4 1422.0L1770.0 1420.8L1771.6 1419.6L1773.2 1418.4L1774.8 1417.2L1776.4 1416.0L1778.0 1414.8L1779.6 1413.6L1781.2 1412.3L1782.8 1411.1L1784.3 1409.9L1785.9 1408.7L1787.5 1407.5L1789.1 1406.2L1790.7 1405.0L1792.2 1403.8L1793.8 1402.5L1795.4 1401.3L1797.0 1400.0L1798.5 1398.8L1800.1 1397.5L1801.6 1396.3L1803.2 1395.0L1804.8 1393.8L1806.3 1392.5L1807.9 1391.3L1809.4 1390.0L1811.0 1388.7L1812.5 1387.5L1814.1 1386.2L1815.6 1384.9L1817.1 1383.7L1818.7 1382.4L1820.2 1381.1L1821.8 1379.8L1823.3 1378.5L1824.8 1377.3L1826.3 1376.0L1827.9 1374.7L1829.4 1373.4L1830.9 1372.1L1832.4 1370.8L1834.0 1369.5L1835.5 1368.2L1837.0 1366.9L1838.5 1365.6L1840.0 1364.3L1841.5 1363.0L1843.0 1361.7L1844.5 1360.3L1846.0 1359.0L1847.5 1357.7L1849.0 1356.4L1850.5 1355.1L1852.0 1353.7L1853.5 1352.4L1855.0 1351.1L1856.5 1349.7L1858.0 1348.4L1859.5 1347.1L1861.0 1345.7L1862.4 1344.4L1863.9 1343.1L1865.4 1341.7L1866.9 1340.4L1868.4 1339.0L1869.8 1337.7L1871.3 1336.3L1872.8 1335.0L1874.2 1333.6L1875.7 1332.3L1877.2 1330.9L1878.6 1329.5L1880.1 1328.2L1881.6 1326.8L1883.0 1325.4L1884.5 1324.1L1885.9 1322.7L1887.4 1321.3L1888.9 1320.0L1890.3 1318.6L1891.8 1317.2L1893.2 1315.8L1894.7 1314.4L1896.1 1313.1L1897.5 1311.7L1899.0 1310.3L1900.4 1308.9L1901.9 1307.5L1903.3 1306.1L1904.7 1304.7L1906.2 1303.3L1907.6 1301.9L1909.1 1300.5L1910.5 1299.1L1911.9 1297.7L1913.3 1296.3L1914.8 1294.9L1916.2 1293.5L1917.6 1292.1L1919.1 1290.7L1920.5 1289.3L1921.9 1287.9L1923.3 1286.5L1924.7 1285.1L1926.2 1283.7L1927.6 1282.2L1929.0 1280.8L1930.4 1279.4L1931.8 1278.0L1933.2 1276.6L1934.6 1275.1L1936.0 1273.7L1937.5 1272.3L1938.9 1270.9L1940.3 1269.4L1941.7 1268.0L1943.1 1266.6L1944.5 1265.2L1945.9 1263.7L1947.3 1262.3L1948.7 1260.9L1950.1 1259.4L1951.5 1258.0L1952.9 1256.6L1954.3 1255.1L1955.7 1253.7L1957.1 1252.2L1958.5 1250.8L1959.8 1249.4L1961.2 1247.9L1962.6 1246.5L1964.0 1245.0L1965.4 1243.6L1966.8 1242.2L1968.2 1240.7L1969.6 1239.3L1970.9 1237.8L1972.3 1236.4L1973.7 1234.9L1975.1 1233.5L1976.5 1232.0L1977.8 1230.6L1979.2 1229.2L1980.6 1227.7L1982.0 1226.3L1983.4 1224.8L1984.7 1223.4L1986.1 1221.9L1987.5 1220.5L1988.9 1219.0L1990.2 1217.6L1991.6 1216.1L1993.0 1214.7L1994.4 1213.2L1995.8 1211.8L1997.1 1210.4L1998.5 1208.9L1999.9 1207.5L2001.3 1206.1L2002.7 1204.6L2004.1 1203.2L2005.5 1201.8L2006.9 1200.4L2008.3 1198.9L2009.7 1197.5L2011.1 1196.1L2012.5 1194.7L2013.9 1193.3L2015.3 1191.9L2016.7 1190.5L2018.2 1189.1L2019.6 1187.7L2021.0 1186.3L2022.4 1185.0L2023.9 1183.6L2025.3 1182.2L2026.8 1180.9L2028.2 1179.5L2029.7 1178.1L2031.1 1176.8L2032.6 1175.5L2034.1 1174.1L2035.6 1172.8L2037.0 1171.5L2038.5 1170.1L2040.0 1168.8L2041.5 1167.5L2043.0 1166.2L2044.6 1165.0L2046.1 1163.7L2047.6 1162.4L2049.1 1161.1L2050.7 1159.9L2052.2 1158.6L2053.8 1157.4L2055.4 1156.1L2056.9 1154.9L2058.5 1153.7L2060.1 1152.5L2061.7 1151.3L2063.3 1150.1L2064.9 1148.9L2066.5 1147.7L2068.1 1146.5L2069.7 1145.3L2071.3 1144.1L2072.9 1143.0L2074.5 1141.8L2076.2 1140.7L2077.8 1139.5L2079.4 1138.4L2081.1 1137.2L2082.7 1136.1L2084.4 1134.9L2086.0 1133.8L2087.7 1132.7L2089.3 1131.6L2091.0 1130.5L2092.7 1129.4L2094.3 1128.2L2096.0 1127.1L2097.7 1126.0L2099.3 1125.0L2101.0 1123.9L2102.7 1122.8L2104.4 1121.7L2106.1 1120.7L2107.8 1119.7L2109.5 1118.7L2111.2 1117.7L2112.9 1116.8L2114.7 1115.9L2116.4 1115.0L2118.2 1114.2L2120.0 1113.4L2121.8 1112.7L2123.6 1112.0L2125.5 1111.3L2127.3 1110.7L2129.2 1110.2L2131.1 1109.7L2133.0 1109.3L2135.0 1108.9L2137.0 1108.5L2138.9 1108.2L2140.9 1107.8L2142.9 1107.4L2144.8 1107.0L2146.8 1106.5L2148.7 1106.0L2150.6 1105.4L2152.6 1104.8L2154.5 1104.2L2156.4 1103.7L2158.3 1103.1L2160.3 1102.7L2162.2 1102.2L2164.2 1101.9L2166.1 1101.5L2168.1 1101.3L2170.0 1101.1L2172.0 1100.9L2174.0 1100.8L2175.9 1100.8L2177.9 1100.8L2179.9 1100.8L2181.8 1100.9L2183.8 1101.0L2185.8 1101.2L2187.7 1101.5L2189.7 1101.8L2191.6 1102.1L2193.6 1102.4L2195.5 1102.8L2197.5 1103.3L2199.4 1103.8L2201.3 1104.3L2203.2 1104.9L2205.2 1105.5L2207.0 1106.1L2208.9 1106.8L2210.8 1107.5L2212.7 1108.3L2214.5 1109.1L2216.3 1109.9L2218.2 1110.7L2220.0 1111.6L2221.8 1112.5L2223.5 1113.5L2225.3 1114.5L2227.0 1115.5L2228.7 1116.5L2230.4 1117.5L2232.1 1118.6L2233.8 1119.7L2235.4 1120.9L2237.0 1122.0L2238.6 1123.2L2240.2 1124.4L2241.8 1125.6L2243.3 1126.8L2244.9 1128.1L2246.4 1129.4L2247.9 1130.7L2249.4 1132.0L2250.8 1133.4L2252.3 1134.7L2253.7 1136.1L2255.1 1137.5L2256.5 1138.9L2257.9 1140.3L2259.3 1141.8L2260.7 1143.2L2262.0 1144.7L2263.4 1146.2L2264.7 1147.6L2266.0 1149.2L2267.3 1150.7L2268.6 1152.2L2269.9 1153.7L2271.2 1155.3L2272.5 1156.8L2273.8 1158.4L2275.0 1160.0L2276.3 1161.6L2277.5 1163.1L2278.8 1164.7L2280.0 1166.3L2281.2 1167.9L2282.5 1169.5L2283.7 1171.1L2284.9 1172.8L2286.1 1174.4L2287.3 1176.0L2288.5 1177.6L2289.7 1179.2L2290.9 1180.9L2292.1 1182.5L2293.3 1184.1L2294.5 1185.7L2295.7 1187.3L2296.9 1188.9L2298.1 1190.6L2299.4 1192.2L2300.6 1193.8L2301.8 1195.4L2303.0 1197.0L2304.2 1198.5L2305.4 1200.1L2306.6 1201.7L2307.8 1203.3L2309.1 1204.8L2310.3 1206.4L2311.5 1207.9L2312.7 1209.5L2314.0 1211.0L2315.2 1212.6L2316.4 1214.1L2317.6 1215.7L2318.8 1217.2L2320.0 1218.8L2321.2 1220.3L2322.4 1221.9L2323.6 1223.5L2324.7 1225.1L2325.9 1226.6L2327.1 1228.2L2328.2 1229.8L2329.3 1231.4L2330.5 1233.1L2331.6 1234.7L2332.6 1236.3L2333.7 1238.0L2334.8 1239.7L2335.8 1241.4L2336.9 1243.1L2337.9 1244.8L2338.9 1246.5L2339.8 1248.3L2340.8 1250.0L2341.7 1251.8L2342.6 1253.7L2343.5 1255.5" fill="none" stroke="#00f" stroke-width="7" stroke-linejoin="round"/><text x="142.1" y="1706.5" font-size="66">100</text><text x="426.5" y="1706.5" font-size="66">200</text><text x="714.5" y="1706.5" font-size="66">300</text><text x="1002.3" y="1706.5" font-size="66">400</text><text x="1288.2" y="1706.5" font-size="66">500</text><text x="1575.5" y="1706.5" font-size="66">600</text><text x="1861.4" y="1706.5" font-size="66">700</text><text x="2152.2" y="1706.5" font-size="66">800</text><text x="986.8" y="1847.8" font-size="81">Temperature (<tspan font-size="48" dy="-39.3">o</tspan><tspan dy="39.3">C)</tspan></text><text transform="translate(75.3 1105.9) rotate(-90)" font-size="81">Intensity (a.u.)</text><text x="213.7" y="628.5" font-size="80">(a)</text><text x="206.8" y="907" font-size="80">(b)</text><text x="219.5" y="1529.5" font-size="80">(c)</text><text y="169.6" font-size="66"><tspan x="855.8 888.2 922.4">350</tspan><tspan x="954.3" dy="-35" font-size="44">o</tspan><tspan x="976.4" dy="35">C</tspan></text><text y="143.4" font-size="66"><tspan x="2124.9 2160.1 2192.6">790</tspan><tspan x="2226.4" dy="-35" font-size="44">o</tspan><tspan x="2248.4" dy="35">C</tspan></text><text y="704.7" font-size="66"><tspan x="2173.8 2205.4 2238.4">845</tspan><tspan x="2272.6" dy="-35" font-size="44">o</tspan><tspan x="2293.3" dy="35">C</tspan></text><text y="906.4" font-size="66"><tspan x="722.1 758.4 789.7">295</tspan><tspan x="824.3" dy="-35" font-size="44">o</tspan><tspan x="845.9" dy="35">C</tspan></text><text y="887.6" font-size="66"><tspan x="1036.6 1072.2 1103.5">410</tspan><tspan x="1137.2" dy="-35" font-size="44">o</tspan><tspan x="1159.6" dy="35">C</tspan></text><text y="880.1" font-size="66"><tspan x="1384.5 1418.1 1451.8">530</tspan><tspan x="1485.6" dy="-35" font-size="44">o</tspan><tspan x="1507.5" dy="35">C</tspan></text><text y="1066.8" font-size="66"><tspan x="621.7 654.9 689.3">270</tspan><tspan x="723.1" dy="-35" font-size="44">o</tspan><tspan x="745.0" dy="35">C</tspan></text><text y="1077.2" font-size="66"><tspan x="2108.6 2143.8 2176.4">790</tspan><tspan x="2210.6" dy="-35" font-size="44">o</tspan><tspan x="2232.5" dy="35">C</tspan></text><text y="1488.0" font-size="66"><tspan x="947.7 979.9 1014.3">370</tspan><tspan x="1048.1" dy="-35" font-size="44">o</tspan><tspan x="1070.0" dy="35">C</tspan></text></svg>
</body></html>
